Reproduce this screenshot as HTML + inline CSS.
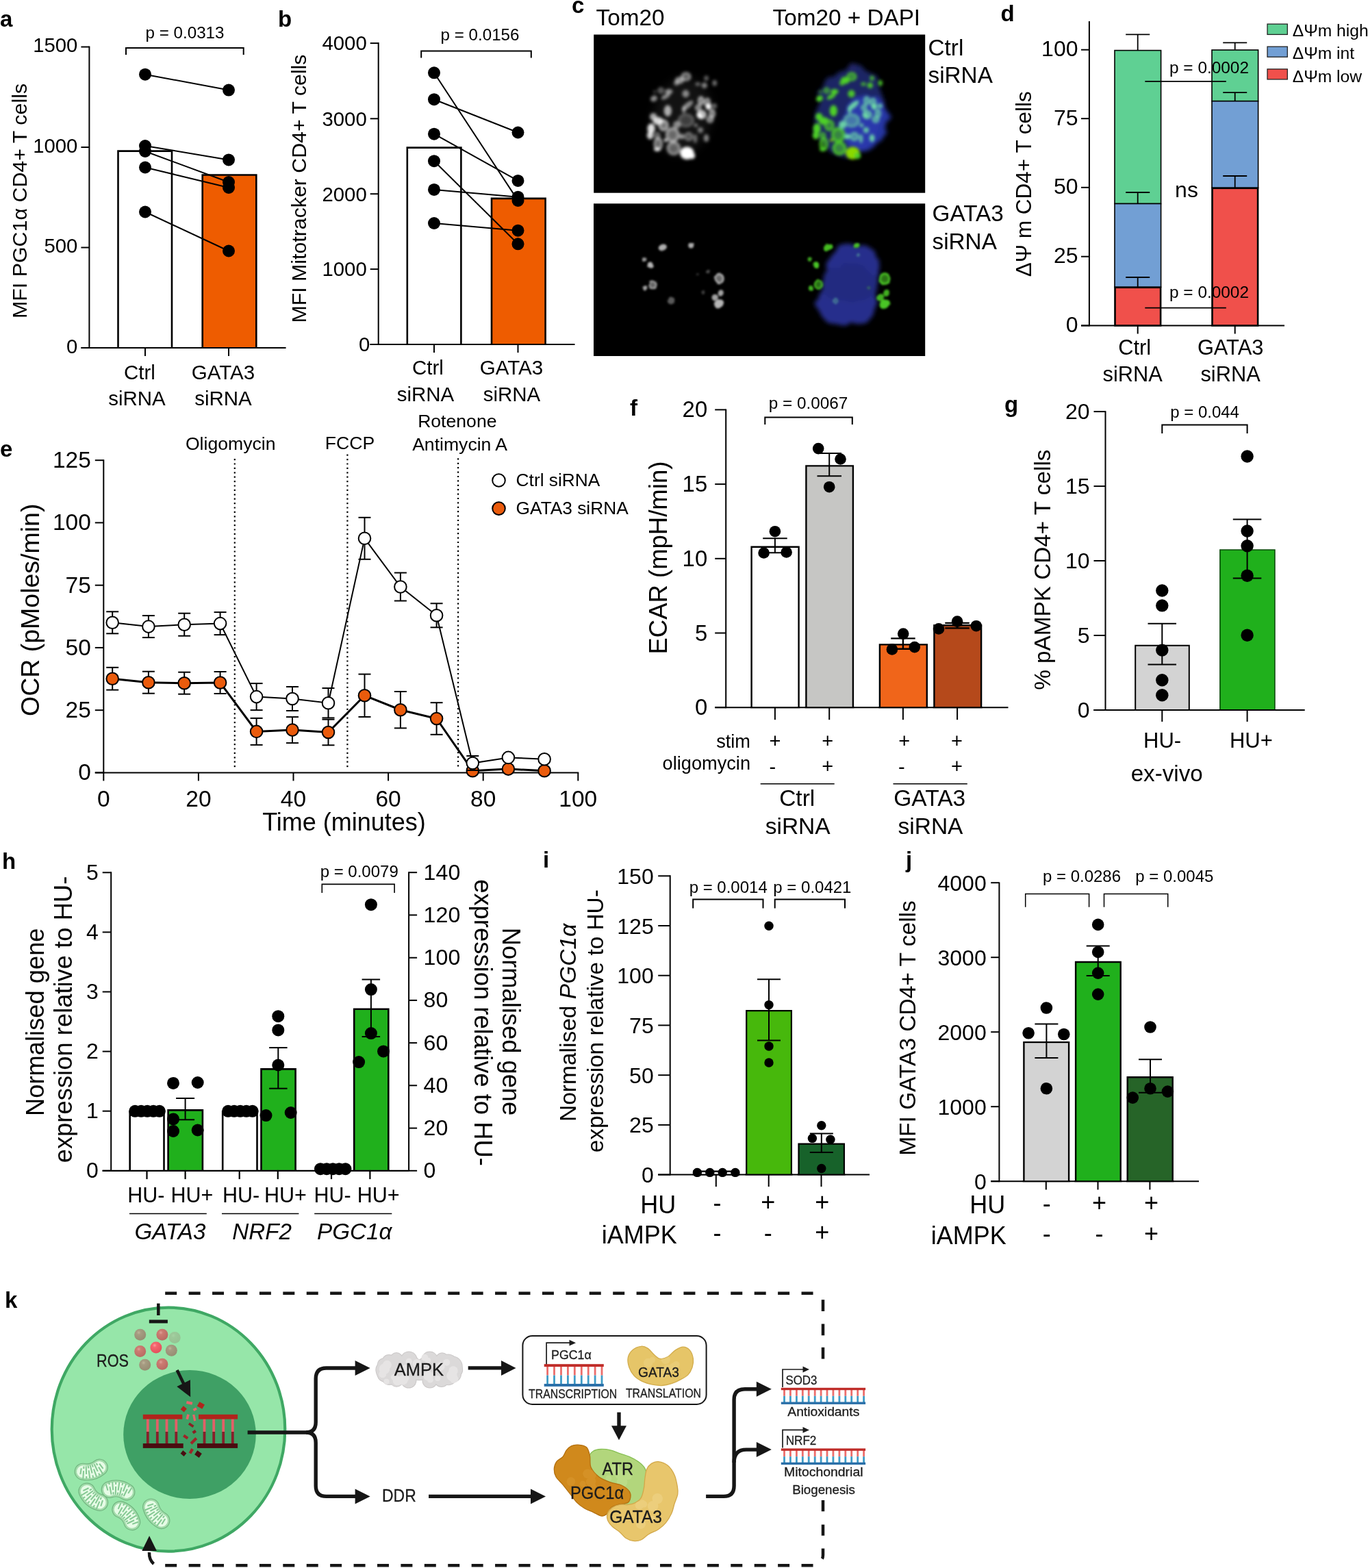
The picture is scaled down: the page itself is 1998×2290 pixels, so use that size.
<!DOCTYPE html>
<html lang="en"><head><meta charset="utf-8"><title>Figure</title>
<style>html,body{margin:0;padding:0;background:#fff}svg{display:block}text{font-family:"Liberation Sans",Arial,sans-serif}</style></head>
<body><svg width="1998" height="2290" viewBox="0 0 1998 2290">
<rect width="1998" height="2290" fill="#fff"/>
<text x="0.0" y="39.0" font-size="33" font-weight="bold">a</text>
<line x1="130.4" y1="67.5" x2="130.4" y2="509.0" stroke="#000" stroke-width="2" />
<line x1="118.4" y1="68.5" x2="130.4" y2="68.5" stroke="#000" stroke-width="2" />
<text x="113.4" y="76.3" font-size="29.3" text-anchor="end">1500</text>
<line x1="118.4" y1="215.0" x2="130.4" y2="215.0" stroke="#000" stroke-width="2" />
<text x="113.4" y="222.8" font-size="29.3" text-anchor="end">1000</text>
<line x1="118.4" y1="361.5" x2="130.4" y2="361.5" stroke="#000" stroke-width="2" />
<text x="113.4" y="369.3" font-size="29.3" text-anchor="end">500</text>
<line x1="118.4" y1="508.0" x2="130.4" y2="508.0" stroke="#000" stroke-width="2" />
<text x="113.4" y="515.8" font-size="29.3" text-anchor="end">0</text>
<line x1="118.5" y1="508.0" x2="417.6" y2="508.0" stroke="#000" stroke-width="2" />
<line x1="212.0" y1="508.0" x2="212.0" y2="520.0" stroke="#000" stroke-width="2" />
<line x1="334.0" y1="508.0" x2="334.0" y2="520.0" stroke="#000" stroke-width="2" />
<text x="39.0" y="293.5" font-size="30.4" text-anchor="middle" transform="rotate(-90 39.0 293.5)">MFI PGC1α CD4+ T cells</text>
<path d="M172.5 508.0V220.6H251.0V508.0" fill="#fff" stroke="#000" stroke-width="2.6"/>
<line x1="170.7" y1="508.0" x2="252.8" y2="508.0" stroke="#000" stroke-width="2" />
<path d="M295.7 508.0V255.5H374.3V508.0" fill="#ee5c00" stroke="#000" stroke-width="2.6"/>
<line x1="293.9" y1="508.0" x2="376.1" y2="508.0" stroke="#000" stroke-width="2" />
<line x1="212.0" y1="108.7" x2="334.0" y2="131.6" stroke="#000" stroke-width="2" />
<line x1="212.0" y1="213.0" x2="334.0" y2="233.4" stroke="#000" stroke-width="2" />
<line x1="212.0" y1="221.0" x2="334.0" y2="266.0" stroke="#000" stroke-width="2" />
<line x1="212.0" y1="244.5" x2="334.0" y2="274.0" stroke="#000" stroke-width="2" />
<line x1="212.0" y1="309.5" x2="334.0" y2="366.5" stroke="#000" stroke-width="2" />
<circle cx="212.0" cy="108.7" r="9" fill="#000" />
<circle cx="212.0" cy="213.0" r="9" fill="#000" />
<circle cx="212.0" cy="221.0" r="9" fill="#000" />
<circle cx="212.0" cy="244.5" r="9" fill="#000" />
<circle cx="212.0" cy="309.5" r="9" fill="#000" />
<circle cx="334.0" cy="131.6" r="9" fill="#000" />
<circle cx="334.0" cy="233.4" r="9" fill="#000" />
<circle cx="334.0" cy="266.0" r="9" fill="#000" />
<circle cx="334.0" cy="274.0" r="9" fill="#000" />
<circle cx="334.0" cy="366.5" r="9" fill="#000" />
<path d="M184.0 80.0V70.0H355.7V80.0" fill="none" stroke="#000" stroke-width="2" />
<text x="270.0" y="56.0" font-size="24.2" text-anchor="middle">p = 0.0313</text>
<text x="204.0" y="554.0" font-size="29.5" text-anchor="middle">Ctrl</text>
<text x="200.0" y="592.0" font-size="29.5" text-anchor="middle">siRNA</text>
<text x="326.0" y="554.0" font-size="29.5" text-anchor="middle">GATA3</text>
<text x="326.0" y="592.0" font-size="29.5" text-anchor="middle">siRNA</text>
<text x="406.0" y="39.0" font-size="33" font-weight="bold">b</text>
<line x1="552.7" y1="62.1" x2="552.7" y2="504.0" stroke="#000" stroke-width="2" />
<line x1="540.7" y1="63.1" x2="552.7" y2="63.1" stroke="#000" stroke-width="2" />
<text x="535.7" y="73.4" font-size="29.3" text-anchor="end">4000</text>
<line x1="540.7" y1="173.3" x2="552.7" y2="173.3" stroke="#000" stroke-width="2" />
<text x="535.7" y="183.6" font-size="29.3" text-anchor="end">3000</text>
<line x1="540.7" y1="283.2" x2="552.7" y2="283.2" stroke="#000" stroke-width="2" />
<text x="535.7" y="293.5" font-size="29.3" text-anchor="end">2000</text>
<line x1="540.7" y1="393.1" x2="552.7" y2="393.1" stroke="#000" stroke-width="2" />
<text x="535.7" y="403.4" font-size="29.3" text-anchor="end">1000</text>
<line x1="540.7" y1="503.0" x2="552.7" y2="503.0" stroke="#000" stroke-width="2" />
<text x="540.2" y="513.3" font-size="29.3" text-anchor="end">0</text>
<line x1="540.5" y1="503.0" x2="839.5" y2="503.0" stroke="#000" stroke-width="2" />
<line x1="634.0" y1="503.0" x2="634.0" y2="515.0" stroke="#000" stroke-width="2" />
<line x1="756.5" y1="503.0" x2="756.5" y2="515.0" stroke="#000" stroke-width="2" />
<text x="447.4" y="275.5" font-size="30.3" text-anchor="middle" transform="rotate(-90 447.4 275.5)">MFI Mitotracker CD4+ T cells</text>
<path d="M594.8 503.0V215.6H673.4V503.0" fill="#fff" stroke="#000" stroke-width="2.6"/>
<line x1="593.0" y1="503.0" x2="675.2" y2="503.0" stroke="#000" stroke-width="2" />
<path d="M718.0 503.0V289.9H796.6V503.0" fill="#ee5c00" stroke="#000" stroke-width="2.6"/>
<line x1="716.2" y1="503.0" x2="798.4" y2="503.0" stroke="#000" stroke-width="2" />
<line x1="634.0" y1="106.3" x2="756.5" y2="292.9" stroke="#000" stroke-width="2" />
<line x1="634.0" y1="145.2" x2="756.5" y2="193.5" stroke="#000" stroke-width="2" />
<line x1="634.0" y1="195.7" x2="756.5" y2="263.9" stroke="#000" stroke-width="2" />
<line x1="634.0" y1="235.2" x2="756.5" y2="356.3" stroke="#000" stroke-width="2" />
<line x1="634.0" y1="276.9" x2="756.5" y2="287.7" stroke="#000" stroke-width="2" />
<line x1="634.0" y1="326.0" x2="756.5" y2="336.7" stroke="#000" stroke-width="2" />
<circle cx="634.0" cy="106.3" r="9" fill="#000" />
<circle cx="634.0" cy="145.2" r="9" fill="#000" />
<circle cx="634.0" cy="195.7" r="9" fill="#000" />
<circle cx="634.0" cy="235.2" r="9" fill="#000" />
<circle cx="634.0" cy="276.9" r="9" fill="#000" />
<circle cx="634.0" cy="326.0" r="9" fill="#000" />
<circle cx="756.5" cy="292.9" r="9" fill="#000" />
<circle cx="756.5" cy="193.5" r="9" fill="#000" />
<circle cx="756.5" cy="263.9" r="9" fill="#000" />
<circle cx="756.5" cy="356.3" r="9" fill="#000" />
<circle cx="756.5" cy="287.7" r="9" fill="#000" />
<circle cx="756.5" cy="336.7" r="9" fill="#000" />
<path d="M615.2 84.6V74.6H775.8V84.6" fill="none" stroke="#000" stroke-width="2" />
<text x="701.0" y="59.0" font-size="24.2" text-anchor="middle">p = 0.0156</text>
<text x="625.0" y="547.0" font-size="29.5" text-anchor="middle">Ctrl</text>
<text x="621.5" y="585.5" font-size="29.5" text-anchor="middle">siRNA</text>
<text x="747.0" y="547.0" font-size="29.5" text-anchor="middle">GATA3</text>
<text x="747.5" y="585.5" font-size="29.5" text-anchor="middle">siRNA</text>
<text x="835.0" y="18.5" font-size="33" font-weight="bold">c</text>
<text x="870.5" y="36.5" font-size="33.3">Tom20</text>
<text x="1128.5" y="36.5" font-size="33.3">Tom20 + DAPI</text>
<text x="1355.5" y="81.2" font-size="33.3">Ctrl</text>
<text x="1355.5" y="121.2" font-size="33.3">siRNA</text>
<text x="1361.5" y="323.3" font-size="33.3">GATA3</text>
<text x="1361.5" y="363.6" font-size="33.3">siRNA</text>
<defs><filter id="b1" x="-20%" y="-20%" width="140%" height="140%">XX xChannelSelector="R" yChannelSelector="G"/><feGaussianBlur stdDeviation="1.9"/></filter><filter id="b2" x="-30%" y="-30%" width="160%" height="160%"><feTurbulence type="fractalNoise" baseFrequency="0.05" numOctaves="2" seed="9" result="n"/><feDisplacementMap in="SourceGraphic" in2="n" scale="14" xChannelSelector="R" yChannelSelector="G"/><feGaussianBlur stdDeviation="3.2"/></filter><filter id="b4" x="-30%" y="-30%" width="160%" height="160%"><feGaussianBlur stdDeviation="7"/></filter><filter id="b3" x="-20%" y="-20%" width="140%" height="140%"><feTurbulence type="fractalNoise" baseFrequency="0.12" numOctaves="2" seed="2" result="n"/><feDisplacementMap in="SourceGraphic" in2="n" scale="3" xChannelSelector="R" yChannelSelector="G"/><feGaussianBlur stdDeviation="1.5"/></filter>
<radialGradient id="wr"><stop offset="0" stop-color="#ffffff" stop-opacity="0.5"/><stop offset="0.55" stop-color="#ffffff" stop-opacity="0.6"/><stop offset="0.85" stop-color="#ffffff" stop-opacity="1"/><stop offset="1" stop-color="#ffffff" stop-opacity="0.9"/></radialGradient>
<radialGradient id="gr"><stop offset="0" stop-color="#4ed026" stop-opacity="0.5"/><stop offset="0.55" stop-color="#4ed026" stop-opacity="0.6"/><stop offset="0.85" stop-color="#4ed026" stop-opacity="1"/><stop offset="1" stop-color="#4ed026" stop-opacity="0.9"/></radialGradient>
<radialGradient id="yr"><stop offset="0" stop-color="#8ad800" stop-opacity="0.5"/><stop offset="0.55" stop-color="#8ad800" stop-opacity="0.6"/><stop offset="0.85" stop-color="#8ad800" stop-opacity="1"/><stop offset="1" stop-color="#8ad800" stop-opacity="0.9"/></radialGradient>
<radialGradient id="tr"><stop offset="0" stop-color="#6edca6" stop-opacity="0.5"/><stop offset="0.55" stop-color="#6edca6" stop-opacity="0.6"/><stop offset="0.85" stop-color="#6edca6" stop-opacity="1"/><stop offset="1" stop-color="#6edca6" stop-opacity="0.9"/></radialGradient>
<clipPath id="c1"><rect x="867.2" y="50.5" width="484" height="231.2"/></clipPath><clipPath id="c2"><rect x="867" y="297.3" width="484.2" height="222.7"/></clipPath></defs>
<rect x="867.2" y="50.5" width="484.0" height="231.2" fill="#000" stroke="none" stroke-width="0" />
<g clip-path="url(#c1)">
<g filter="url(#b4)"><ellipse cx="997" cy="170" rx="42" ry="56" fill="#fff" opacity="0.07" transform="rotate(12 997 170)"/></g>
<g filter="url(#b1)">
<ellipse cx="1001.9" cy="111.9" rx="7.5" ry="6.6" fill="url(#wr)" opacity="0.66"/>
<ellipse cx="992.5" cy="117.3" rx="6.6" ry="5.2" fill="#ffffff" opacity="0.55"/>
<ellipse cx="987.8" cy="121.2" rx="3.8" ry="3.8" fill="#ffffff" opacity="0.44"/>
<ellipse cx="1031.6" cy="114.2" rx="3.3" ry="3.8" fill="#ffffff" opacity="0.39"/>
<ellipse cx="1019.1" cy="122.8" rx="3.8" ry="2.8" fill="#ffffff" opacity="0.39"/>
<ellipse cx="1028.8" cy="124.8" rx="4.2" ry="4.2" fill="#ffffff" opacity="0.50"/>
<ellipse cx="1043.7" cy="121.2" rx="3.3" ry="4.2" fill="#ffffff" opacity="0.44"/>
<ellipse cx="965.2" cy="132.2" rx="4.7" ry="4.7" fill="url(#wr)" opacity="0.50"/>
<ellipse cx="976.9" cy="133.8" rx="5.6" ry="3.8" fill="#ffffff" opacity="0.55"/>
<ellipse cx="972.2" cy="140.8" rx="7.5" ry="3.3" fill="#ffffff" opacity="0.50" transform="rotate(-30 972.2 140.8)"/>
<ellipse cx="955.0" cy="143.9" rx="5.2" ry="4.2" fill="#ffffff" opacity="0.55" transform="rotate(-30 955.0 143.9)"/>
<ellipse cx="956.2" cy="134.1" rx="2.3" ry="2.3" fill="#ffffff" opacity="0.28"/>
<ellipse cx="1001.5" cy="136.9" rx="5.2" ry="5.6" fill="#ffffff" opacity="0.50"/>
<ellipse cx="1004.2" cy="154.1" rx="10.3" ry="3.9" fill="#ffffff" opacity="0.50" transform="rotate(-40 1004.2 154.1)"/>
<ellipse cx="998.8" cy="160.3" rx="2.8" ry="5.6" fill="#ffffff" opacity="0.44"/>
<ellipse cx="1023.8" cy="147.0" rx="4.7" ry="6.6" fill="url(#wr)" opacity="0.83"/>
<ellipse cx="1033.1" cy="149.4" rx="4.7" ry="6.6" fill="url(#wr)" opacity="0.77"/>
<ellipse cx="1019.8" cy="157.2" rx="4.7" ry="4.7" fill="url(#wr)" opacity="0.77"/>
<ellipse cx="1034.7" cy="155.6" rx="4.2" ry="4.7" fill="#ffffff" opacity="1.00"/>
<ellipse cx="1024.5" cy="167.3" rx="7.0" ry="6.6" fill="url(#wr)" opacity="1.00"/>
<ellipse cx="1022.2" cy="168.9" rx="3.8" ry="3.8" fill="#ffffff" opacity="1.00"/>
<ellipse cx="1040.2" cy="165.8" rx="4.7" ry="6.6" fill="url(#wr)" opacity="0.83"/>
<ellipse cx="1037.0" cy="174.4" rx="5.2" ry="5.2" fill="url(#wr)" opacity="0.77"/>
<ellipse cx="1043.3" cy="154.8" rx="3.8" ry="3.8" fill="#ffffff" opacity="0.39"/>
<ellipse cx="975.3" cy="161.9" rx="5.6" ry="8.4" fill="#ffffff" opacity="0.66"/>
<ellipse cx="954.2" cy="170.5" rx="5.2" ry="5.6" fill="#ffffff" opacity="0.66"/>
<ellipse cx="961.2" cy="176.7" rx="7.5" ry="5.6" fill="#ffffff" opacity="0.83"/>
<ellipse cx="969.1" cy="183.0" rx="7.5" ry="8.4" fill="url(#wr)" opacity="0.77"/>
<ellipse cx="951.1" cy="187.7" rx="5.6" ry="7.5" fill="#ffffff" opacity="0.88"/>
<ellipse cx="949.5" cy="197.8" rx="4.7" ry="5.6" fill="#ffffff" opacity="0.83"/>
<ellipse cx="959.7" cy="197.8" rx="4.7" ry="4.7" fill="url(#wr)" opacity="0.55"/>
<ellipse cx="961.2" cy="210.3" rx="6.6" ry="10.3" fill="url(#wr)" opacity="0.72"/>
<ellipse cx="959.7" cy="218.1" rx="4.7" ry="2.8" fill="#ffffff" opacity="0.83"/>
<ellipse cx="972.2" cy="204.8" rx="2.3" ry="2.3" fill="#ffffff" opacity="1.00"/>
<ellipse cx="982.3" cy="197.0" rx="10.3" ry="11.2" fill="url(#wr)" opacity="0.66"/>
<ellipse cx="983.9" cy="216.6" rx="10.3" ry="10.3" fill="url(#wr)" opacity="0.61"/>
<ellipse cx="1001.9" cy="175.9" rx="12.2" ry="10.3" fill="url(#wr)" opacity="0.33"/>
<ellipse cx="988.6" cy="182.2" rx="5.6" ry="5.6" fill="#ffffff" opacity="0.50"/>
<ellipse cx="995.6" cy="199.4" rx="3.8" ry="3.8" fill="#ffffff" opacity="0.55"/>
<ellipse cx="1005.8" cy="199.4" rx="6.6" ry="6.6" fill="url(#wr)" opacity="0.50"/>
<ellipse cx="1003.4" cy="223.6" rx="10.3" ry="9.4" fill="#ffffff" opacity="1.00"/>
<ellipse cx="1000.3" cy="221.2" rx="5.6" ry="5.6" fill="#ffffff" opacity="1.00"/>
<ellipse cx="1010.5" cy="227.5" rx="4.7" ry="4.7" fill="#ffffff" opacity="0.99"/>
<ellipse cx="1016.3" cy="183.0" rx="2.8" ry="2.8" fill="#ffffff" opacity="0.44"/>
<ellipse cx="1023.0" cy="190.0" rx="4.2" ry="4.2" fill="#ffffff" opacity="0.44"/>
<ellipse cx="1031.6" cy="201.7" rx="3.8" ry="5.6" fill="#ffffff" opacity="0.50"/>
<ellipse cx="1015.5" cy="202.5" rx="2.8" ry="6.6" fill="#ffffff" opacity="0.39"/>
</g>
<g filter="url(#b2)"><ellipse cx="1242" cy="162" rx="50" ry="66" fill="#20266a" opacity="0.95" transform="rotate(14 1242 162)"/><ellipse cx="1264" cy="180" rx="33" ry="42" fill="#2a3cb4" opacity="0.9" transform="rotate(18 1264 180)"/><ellipse cx="1246" cy="101" rx="6" ry="7" fill="#24286c" opacity="0.7"/></g>
<g filter="url(#b1)">
<ellipse cx="1243.9" cy="111.9" rx="7.5" ry="6.6" fill="url(#gr)" opacity="1.00"/>
<ellipse cx="1234.5" cy="117.3" rx="6.6" ry="5.2" fill="#4ed026" opacity="1.00"/>
<ellipse cx="1229.8" cy="121.2" rx="3.8" ry="3.8" fill="#4ed026" opacity="0.85"/>
<ellipse cx="1273.6" cy="114.2" rx="3.3" ry="3.8" fill="#4ed026" opacity="0.77"/>
<ellipse cx="1261.1" cy="122.8" rx="3.8" ry="2.8" fill="#4ed026" opacity="0.77"/>
<ellipse cx="1270.8" cy="124.8" rx="4.2" ry="4.2" fill="#4ed026" opacity="0.93"/>
<ellipse cx="1285.7" cy="121.2" rx="3.3" ry="4.2" fill="#4ed026" opacity="0.85"/>
<ellipse cx="1207.2" cy="132.2" rx="4.7" ry="4.7" fill="url(#gr)" opacity="0.93"/>
<ellipse cx="1218.9" cy="133.8" rx="5.6" ry="3.8" fill="#4ed026" opacity="1.00"/>
<ellipse cx="1214.2" cy="140.8" rx="7.5" ry="3.3" fill="#4ed026" opacity="0.93" transform="rotate(-30 1214.2 140.8)"/>
<ellipse cx="1197.0" cy="143.9" rx="5.2" ry="4.2" fill="#4ed026" opacity="1.00" transform="rotate(-30 1197.0 143.9)"/>
<ellipse cx="1198.2" cy="134.1" rx="2.3" ry="2.3" fill="#4ed026" opacity="0.62"/>
<ellipse cx="1243.5" cy="136.9" rx="5.2" ry="5.6" fill="#4ed026" opacity="0.93"/>
<ellipse cx="1246.2" cy="154.1" rx="10.3" ry="3.9" fill="#6edca6" opacity="0.93" transform="rotate(-40 1246.2 154.1)"/>
<ellipse cx="1240.8" cy="160.3" rx="2.8" ry="5.6" fill="#6edca6" opacity="0.85"/>
<ellipse cx="1265.8" cy="147.0" rx="4.7" ry="6.6" fill="url(#tr)" opacity="1.00"/>
<ellipse cx="1275.1" cy="149.4" rx="4.7" ry="6.6" fill="url(#tr)" opacity="1.00"/>
<ellipse cx="1261.8" cy="157.2" rx="4.7" ry="4.7" fill="url(#tr)" opacity="1.00"/>
<ellipse cx="1276.7" cy="155.6" rx="4.2" ry="4.7" fill="#6edca6" opacity="1.00"/>
<ellipse cx="1266.5" cy="167.3" rx="7.0" ry="6.6" fill="url(#tr)" opacity="1.00"/>
<ellipse cx="1264.2" cy="168.9" rx="3.8" ry="3.8" fill="#6edca6" opacity="1.00"/>
<ellipse cx="1282.2" cy="165.8" rx="4.7" ry="6.6" fill="url(#tr)" opacity="1.00"/>
<ellipse cx="1279.0" cy="174.4" rx="5.2" ry="5.2" fill="url(#tr)" opacity="1.00"/>
<ellipse cx="1285.3" cy="154.8" rx="3.8" ry="3.8" fill="#6edca6" opacity="0.77"/>
<ellipse cx="1217.3" cy="161.9" rx="5.6" ry="8.4" fill="#4ed026" opacity="1.00"/>
<ellipse cx="1196.2" cy="170.5" rx="5.2" ry="5.6" fill="#4ed026" opacity="1.00"/>
<ellipse cx="1203.2" cy="176.7" rx="7.5" ry="5.6" fill="#4ed026" opacity="1.00"/>
<ellipse cx="1211.1" cy="183.0" rx="7.5" ry="8.4" fill="url(#gr)" opacity="1.00"/>
<ellipse cx="1193.1" cy="187.7" rx="5.6" ry="7.5" fill="#4ed026" opacity="1.00"/>
<ellipse cx="1191.5" cy="197.8" rx="4.7" ry="5.6" fill="#4ed026" opacity="1.00"/>
<ellipse cx="1201.7" cy="197.8" rx="4.7" ry="4.7" fill="url(#gr)" opacity="1.00"/>
<ellipse cx="1203.2" cy="210.3" rx="6.6" ry="10.3" fill="url(#gr)" opacity="1.00"/>
<ellipse cx="1201.7" cy="218.1" rx="4.7" ry="2.8" fill="#4ed026" opacity="1.00"/>
<ellipse cx="1214.2" cy="204.8" rx="2.3" ry="2.3" fill="#8ad800" opacity="1.00"/>
<ellipse cx="1224.3" cy="197.0" rx="10.3" ry="11.2" fill="url(#gr)" opacity="1.00"/>
<ellipse cx="1225.9" cy="216.6" rx="10.3" ry="10.3" fill="url(#gr)" opacity="1.00"/>
<ellipse cx="1243.9" cy="175.9" rx="12.2" ry="10.3" fill="url(#tr)" opacity="0.70"/>
<ellipse cx="1230.6" cy="182.2" rx="5.6" ry="5.6" fill="#6edca6" opacity="0.93"/>
<ellipse cx="1237.6" cy="199.4" rx="3.8" ry="3.8" fill="#6edca6" opacity="1.00"/>
<ellipse cx="1247.8" cy="199.4" rx="6.6" ry="6.6" fill="url(#tr)" opacity="0.93"/>
<ellipse cx="1245.4" cy="223.6" rx="10.3" ry="9.4" fill="#8ad800" opacity="1.00"/>
<ellipse cx="1242.3" cy="221.2" rx="5.6" ry="5.6" fill="#8ad800" opacity="1.00"/>
<ellipse cx="1252.5" cy="227.5" rx="4.7" ry="4.7" fill="#4ed026" opacity="1.00"/>
<ellipse cx="1258.3" cy="183.0" rx="2.8" ry="2.8" fill="#6edca6" opacity="0.85"/>
<ellipse cx="1265.0" cy="190.0" rx="4.2" ry="4.2" fill="#6edca6" opacity="0.85"/>
<ellipse cx="1273.6" cy="201.7" rx="3.8" ry="5.6" fill="#6edca6" opacity="0.93"/>
<ellipse cx="1257.5" cy="202.5" rx="2.8" ry="6.6" fill="#6edca6" opacity="0.77"/>
</g></g>
<rect x="867.0" y="297.3" width="484.2" height="222.7" fill="#000" stroke="none" stroke-width="0" />
<g clip-path="url(#c2)">
<g filter="url(#b3)">
<ellipse cx="967.8" cy="361.3" rx="6.3" ry="4.6" fill="#ffffff" opacity="0.68" transform="rotate(-20 967.8 361.3)"/>
<ellipse cx="1009.2" cy="358.4" rx="4.0" ry="4.0" fill="#ffffff" opacity="0.68"/>
<ellipse cx="940.7" cy="378.7" rx="2.8" ry="2.8" fill="#ffffff" opacity="0.60"/>
<ellipse cx="949.8" cy="387.0" rx="4.0" ry="4.4" fill="#ffffff" opacity="0.71"/>
<ellipse cx="953.5" cy="415.8" rx="6.1" ry="6.5" fill="url(#wr)" opacity="0.71"/>
<ellipse cx="942.2" cy="420.8" rx="3.0" ry="3.6" fill="#ffffff" opacity="0.64"/>
<ellipse cx="1050.2" cy="407.0" rx="7.5" ry="8.3" fill="url(#wr)" opacity="0.75"/>
<ellipse cx="1052.7" cy="427.9" rx="4.0" ry="4.8" fill="#ffffff" opacity="0.64" transform="rotate(20 1052.7 427.9)"/>
<ellipse cx="1044.3" cy="434.6" rx="4.8" ry="4.8" fill="#ffffff" opacity="0.64"/>
<ellipse cx="1050.2" cy="443.8" rx="7.6" ry="5.9" fill="#ffffff" opacity="0.71" transform="rotate(-40 1050.2 443.8)"/>
<ellipse cx="1033.5" cy="396.5" rx="2.6" ry="2.6" fill="#ffffff" opacity="0.30"/>
<ellipse cx="1027.5" cy="426.5" rx="2.6" ry="2.6" fill="#ffffff" opacity="0.25"/>
<ellipse cx="1019.0" cy="400.5" rx="1.8" ry="1.8" fill="#ffffff" opacity="0.20"/>
<ellipse cx="980.0" cy="439.0" rx="5.4" ry="5.4" fill="#ffffff" opacity="0.35"/>
</g>
<g filter="url(#b2)"><ellipse cx="1248" cy="387" rx="38" ry="31" fill="#262f8c" transform="rotate(15 1248 387)"/><ellipse cx="1237" cy="441" rx="44" ry="34" fill="#262f8c" transform="rotate(-8 1237 441)"/><ellipse cx="1241" cy="413" rx="41" ry="28" fill="#232b80"/></g>
<g filter="url(#b3)">
<ellipse cx="1209.8" cy="361.3" rx="6.9" ry="5.1" fill="#4ed026" opacity="0.90" transform="rotate(-20 1209.8 361.3)"/>
<ellipse cx="1251.2" cy="358.4" rx="4.4" ry="4.4" fill="#4ed026" opacity="0.90"/>
<ellipse cx="1182.7" cy="378.7" rx="3.1" ry="3.1" fill="#4ed026" opacity="0.80"/>
<ellipse cx="1191.8" cy="387.0" rx="4.4" ry="4.8" fill="#4ed026" opacity="0.95"/>
<ellipse cx="1195.5" cy="415.8" rx="6.7" ry="7.1" fill="url(#gr)" opacity="0.95"/>
<ellipse cx="1184.2" cy="420.8" rx="3.3" ry="3.9" fill="#4ed026" opacity="0.85"/>
<ellipse cx="1292.2" cy="407.0" rx="8.2" ry="9.1" fill="url(#gr)" opacity="1.00"/>
<ellipse cx="1294.7" cy="427.9" rx="4.4" ry="5.3" fill="#4ed026" opacity="0.85" transform="rotate(20 1294.7 427.9)"/>
<ellipse cx="1286.3" cy="434.6" rx="5.3" ry="5.3" fill="#4ed026" opacity="0.85"/>
<ellipse cx="1292.2" cy="443.8" rx="8.3" ry="6.4" fill="#4ed026" opacity="0.95" transform="rotate(-40 1292.2 443.8)"/>
<ellipse cx="1220.2" cy="439.6" rx="4.2" ry="4.6" fill="url(#tr)" opacity="0.50"/>
<ellipse cx="1253.3" cy="372.2" rx="2.5" ry="2.5" fill="#6edca6" opacity="0.40"/>
<ellipse cx="1269.0" cy="420.5" rx="2.4" ry="2.4" fill="#4ed026" opacity="0.30"/>
</g></g>
<text x="1461.5" y="31.0" font-size="33" font-weight="bold">d</text>
<line x1="1590.9" y1="31.0" x2="1590.9" y2="476.5" stroke="#000" stroke-width="2" />
<line x1="1579.0" y1="72.7" x2="1590.9" y2="72.7" stroke="#000" stroke-width="2" />
<text x="1574.5" y="82.2" font-size="32" text-anchor="end">100</text>
<line x1="1579.0" y1="173.2" x2="1590.9" y2="173.2" stroke="#000" stroke-width="2" />
<text x="1574.5" y="182.7" font-size="32" text-anchor="end">75</text>
<line x1="1579.0" y1="273.8" x2="1590.9" y2="273.8" stroke="#000" stroke-width="2" />
<text x="1574.5" y="283.3" font-size="32" text-anchor="end">50</text>
<line x1="1579.0" y1="374.7" x2="1590.9" y2="374.7" stroke="#000" stroke-width="2" />
<text x="1574.5" y="384.2" font-size="32" text-anchor="end">25</text>
<line x1="1579.0" y1="475.5" x2="1590.9" y2="475.5" stroke="#000" stroke-width="2" />
<text x="1574.5" y="485.0" font-size="32" text-anchor="end">0</text>
<line x1="1579.0" y1="475.5" x2="1876.0" y2="475.5" stroke="#000" stroke-width="2" />
<line x1="1661.7" y1="475.5" x2="1661.7" y2="487.5" stroke="#000" stroke-width="2" />
<line x1="1803.7" y1="475.5" x2="1803.7" y2="487.5" stroke="#000" stroke-width="2" />
<text x="1506.5" y="268.7" font-size="31.5" text-anchor="middle" transform="rotate(-90 1506.5 268.7)">ΔΨ m CD4+ T cells</text>
<rect x="1628.0" y="73.6" width="67.6" height="223.9" fill="#5fd093" stroke="#000" stroke-width="1.6" />
<rect x="1628.0" y="297.5" width="67.6" height="121.9" fill="#729fd4" stroke="#000" stroke-width="1.6" />
<rect x="1628.5" y="419.8" width="66.6" height="55.7" fill="#f0504b" stroke="#000" stroke-width="2.6" />
<rect x="1770.0" y="73.0" width="67.6" height="74.7" fill="#5fd093" stroke="#000" stroke-width="1.6" />
<rect x="1770.0" y="147.7" width="67.6" height="126.7" fill="#729fd4" stroke="#000" stroke-width="1.6" />
<rect x="1770.5" y="274.8" width="66.6" height="200.7" fill="#f0504b" stroke="#000" stroke-width="2.6" />
<line x1="1661.7" y1="50.4" x2="1661.7" y2="73.0" stroke="#000" stroke-width="1.8" />
<line x1="1644.2" y1="50.4" x2="1679.2" y2="50.4" stroke="#000" stroke-width="1.8" />
<line x1="1661.7" y1="281.0" x2="1661.7" y2="297.5" stroke="#000" stroke-width="1.8" />
<line x1="1644.2" y1="281.0" x2="1679.2" y2="281.0" stroke="#000" stroke-width="1.8" />
<line x1="1661.7" y1="405.0" x2="1661.7" y2="419.4" stroke="#000" stroke-width="1.8" />
<line x1="1644.2" y1="405.0" x2="1679.2" y2="405.0" stroke="#000" stroke-width="1.8" />
<line x1="1803.7" y1="62.4" x2="1803.7" y2="72.4" stroke="#000" stroke-width="1.8" />
<line x1="1786.2" y1="62.4" x2="1821.2" y2="62.4" stroke="#000" stroke-width="1.8" />
<line x1="1803.7" y1="135.1" x2="1803.7" y2="147.7" stroke="#000" stroke-width="1.8" />
<line x1="1786.2" y1="135.1" x2="1821.2" y2="135.1" stroke="#000" stroke-width="1.8" />
<line x1="1803.7" y1="257.0" x2="1803.7" y2="274.4" stroke="#000" stroke-width="1.8" />
<line x1="1786.2" y1="257.0" x2="1821.2" y2="257.0" stroke="#000" stroke-width="1.8" />
<text x="1766.0" y="106.6" font-size="24.4" text-anchor="middle">p = 0.0002</text>
<line x1="1672.3" y1="118.9" x2="1790.8" y2="118.9" stroke="#000" stroke-width="1.8" />
<text x="1733.0" y="288.2" font-size="32" text-anchor="middle">ns</text>
<text x="1766.0" y="435.3" font-size="24.4" text-anchor="middle">p = 0.0002</text>
<line x1="1672.3" y1="449.7" x2="1790.8" y2="449.7" stroke="#000" stroke-width="1.8" />
<rect x="1851.0" y="35.1" width="29.3" height="15.3" fill="#5fd093" stroke="#222" stroke-width="1.3" />
<text x="1887.8" y="52.5" font-size="24.6">ΔΨm high</text>
<rect x="1851.0" y="68.1" width="29.3" height="15.1" fill="#729fd4" stroke="#222" stroke-width="1.3" />
<text x="1887.8" y="86.2" font-size="24.6">ΔΨm int</text>
<rect x="1851.0" y="100.9" width="29.3" height="15.0" fill="#f0504b" stroke="#222" stroke-width="1.3" />
<text x="1887.8" y="120.0" font-size="24.6">ΔΨm low</text>
<text x="1657.2" y="518.0" font-size="30.8" text-anchor="middle">Ctrl</text>
<text x="1654.2" y="557.0" font-size="30.8" text-anchor="middle">siRNA</text>
<text x="1797.1" y="518.0" font-size="30.8" text-anchor="middle">GATA3</text>
<text x="1797.1" y="557.0" font-size="30.8" text-anchor="middle">siRNA</text>
<text x="0.0" y="667.4" font-size="33" font-weight="bold">e</text>
<line x1="151.3" y1="671.2" x2="151.3" y2="1129.4" stroke="#000" stroke-width="2" />
<line x1="138.8" y1="672.2" x2="151.3" y2="672.2" stroke="#000" stroke-width="2" />
<text x="132.8" y="683.2" font-size="33.5" text-anchor="end">125</text>
<line x1="138.8" y1="763.4" x2="151.3" y2="763.4" stroke="#000" stroke-width="2" />
<text x="132.8" y="774.4" font-size="33.5" text-anchor="end">100</text>
<line x1="138.8" y1="854.7" x2="151.3" y2="854.7" stroke="#000" stroke-width="2" />
<text x="132.8" y="865.7" font-size="33.5" text-anchor="end">75</text>
<line x1="138.8" y1="945.9" x2="151.3" y2="945.9" stroke="#000" stroke-width="2" />
<text x="132.8" y="956.9" font-size="33.5" text-anchor="end">50</text>
<line x1="138.8" y1="1037.2" x2="151.3" y2="1037.2" stroke="#000" stroke-width="2" />
<text x="132.8" y="1048.2" font-size="33.5" text-anchor="end">25</text>
<line x1="138.8" y1="1128.4" x2="151.3" y2="1128.4" stroke="#000" stroke-width="2" />
<text x="132.8" y="1139.4" font-size="33.5" text-anchor="end">0</text>
<line x1="138.8" y1="1128.4" x2="845.2" y2="1128.4" stroke="#000" stroke-width="2" />
<line x1="151.3" y1="1128.4" x2="151.3" y2="1140.4" stroke="#000" stroke-width="2" />
<line x1="289.9" y1="1128.4" x2="289.9" y2="1140.4" stroke="#000" stroke-width="2" />
<line x1="428.5" y1="1128.4" x2="428.5" y2="1140.4" stroke="#000" stroke-width="2" />
<line x1="567.1" y1="1128.4" x2="567.1" y2="1140.4" stroke="#000" stroke-width="2" />
<line x1="705.7" y1="1128.4" x2="705.7" y2="1140.4" stroke="#000" stroke-width="2" />
<line x1="844.3" y1="1128.4" x2="844.3" y2="1140.4" stroke="#000" stroke-width="2" />
<text x="151.3" y="1177.7" font-size="33.5" text-anchor="middle">0</text>
<text x="289.9" y="1177.7" font-size="33.5" text-anchor="middle">20</text>
<text x="428.5" y="1177.7" font-size="33.5" text-anchor="middle">40</text>
<text x="567.1" y="1177.7" font-size="33.5" text-anchor="middle">60</text>
<text x="705.7" y="1177.7" font-size="33.5" text-anchor="middle">80</text>
<text x="844.3" y="1177.7" font-size="33.5" text-anchor="middle">100</text>
<text x="57.2" y="890.8" font-size="37.5" text-anchor="middle" transform="rotate(-90 57.2 890.8)">OCR (pMoles/min)</text>
<text x="502.5" y="1212.5" font-size="36" text-anchor="middle">Time (minutes)</text>
<text x="336.7" y="656.5" font-size="26.6" text-anchor="middle">Oligomycin</text>
<text x="511.0" y="655.8" font-size="26.6" text-anchor="middle">FCCP</text>
<text x="667.8" y="624.0" font-size="26.6" text-anchor="middle">Rotenone</text>
<text x="671.6" y="657.8" font-size="26.6" text-anchor="middle">Antimycin A</text>
<line x1="342.8" y1="670.0" x2="342.8" y2="1123.0" stroke="#000" stroke-width="2.2" stroke-dasharray="2.2 4.2"/>
<line x1="507.4" y1="663.6" x2="507.4" y2="1123.0" stroke="#000" stroke-width="2.2" stroke-dasharray="2.2 4.2"/>
<line x1="669.1" y1="669.3" x2="669.1" y2="1123.0" stroke="#000" stroke-width="2.2" stroke-dasharray="2.2 4.2"/>
<line x1="164.2" y1="974.8" x2="164.2" y2="1007.6" stroke="#000" stroke-width="2" />
<line x1="155.2" y1="974.8" x2="173.2" y2="974.8" stroke="#000" stroke-width="2" />
<line x1="155.2" y1="1007.6" x2="173.2" y2="1007.6" stroke="#000" stroke-width="2" />
<line x1="216.9" y1="980.7" x2="216.9" y2="1012.7" stroke="#000" stroke-width="2" />
<line x1="207.9" y1="980.7" x2="225.9" y2="980.7" stroke="#000" stroke-width="2" />
<line x1="207.9" y1="1012.7" x2="225.9" y2="1012.7" stroke="#000" stroke-width="2" />
<line x1="269.2" y1="981.7" x2="269.2" y2="1013.7" stroke="#000" stroke-width="2" />
<line x1="260.2" y1="981.7" x2="278.2" y2="981.7" stroke="#000" stroke-width="2" />
<line x1="260.2" y1="1013.7" x2="278.2" y2="1013.7" stroke="#000" stroke-width="2" />
<line x1="321.6" y1="981.0" x2="321.6" y2="1013.0" stroke="#000" stroke-width="2" />
<line x1="312.6" y1="981.0" x2="330.6" y2="981.0" stroke="#000" stroke-width="2" />
<line x1="312.6" y1="1013.0" x2="330.6" y2="1013.0" stroke="#000" stroke-width="2" />
<line x1="374.6" y1="1048.9" x2="374.6" y2="1087.9" stroke="#000" stroke-width="2" />
<line x1="365.6" y1="1048.9" x2="383.6" y2="1048.9" stroke="#000" stroke-width="2" />
<line x1="365.6" y1="1087.9" x2="383.6" y2="1087.9" stroke="#000" stroke-width="2" />
<line x1="427.0" y1="1047.1" x2="427.0" y2="1085.1" stroke="#000" stroke-width="2" />
<line x1="418.0" y1="1047.1" x2="436.0" y2="1047.1" stroke="#000" stroke-width="2" />
<line x1="418.0" y1="1085.1" x2="436.0" y2="1085.1" stroke="#000" stroke-width="2" />
<line x1="479.5" y1="1050.7" x2="479.5" y2="1088.3" stroke="#000" stroke-width="2" />
<line x1="470.5" y1="1050.7" x2="488.5" y2="1050.7" stroke="#000" stroke-width="2" />
<line x1="470.5" y1="1088.3" x2="488.5" y2="1088.3" stroke="#000" stroke-width="2" />
<line x1="532.5" y1="984.6" x2="532.5" y2="1047.0" stroke="#000" stroke-width="2" />
<line x1="523.5" y1="984.6" x2="541.5" y2="984.6" stroke="#000" stroke-width="2" />
<line x1="523.5" y1="1047.0" x2="541.5" y2="1047.0" stroke="#000" stroke-width="2" />
<line x1="584.9" y1="1010.0" x2="584.9" y2="1063.4" stroke="#000" stroke-width="2" />
<line x1="575.9" y1="1010.0" x2="593.9" y2="1010.0" stroke="#000" stroke-width="2" />
<line x1="575.9" y1="1063.4" x2="593.9" y2="1063.4" stroke="#000" stroke-width="2" />
<line x1="637.6" y1="1026.2" x2="637.6" y2="1072.8" stroke="#000" stroke-width="2" />
<line x1="628.6" y1="1026.2" x2="646.6" y2="1026.2" stroke="#000" stroke-width="2" />
<line x1="628.6" y1="1072.8" x2="646.6" y2="1072.8" stroke="#000" stroke-width="2" />
<polyline fill="none" stroke="#000" stroke-width="3" points="164.2,991.2 216.9,996.7 269.2,997.7 321.6,997.0 374.6,1068.4 427.0,1066.1 479.5,1069.5 532.5,1015.8 584.9,1036.7 637.6,1049.5 690.3,1125.7 742.4,1123.1 795.1,1125.7"/>
<circle cx="164.2" cy="991.2" r="8.8" fill="#ea5b0c" stroke="#000" stroke-width="2" />
<circle cx="216.9" cy="996.7" r="8.8" fill="#ea5b0c" stroke="#000" stroke-width="2" />
<circle cx="269.2" cy="997.7" r="8.8" fill="#ea5b0c" stroke="#000" stroke-width="2" />
<circle cx="321.6" cy="997.0" r="8.8" fill="#ea5b0c" stroke="#000" stroke-width="2" />
<circle cx="374.6" cy="1068.4" r="8.8" fill="#ea5b0c" stroke="#000" stroke-width="2" />
<circle cx="427.0" cy="1066.1" r="8.8" fill="#ea5b0c" stroke="#000" stroke-width="2" />
<circle cx="479.5" cy="1069.5" r="8.8" fill="#ea5b0c" stroke="#000" stroke-width="2" />
<circle cx="532.5" cy="1015.8" r="8.8" fill="#ea5b0c" stroke="#000" stroke-width="2" />
<circle cx="584.9" cy="1036.7" r="8.8" fill="#ea5b0c" stroke="#000" stroke-width="2" />
<circle cx="637.6" cy="1049.5" r="8.8" fill="#ea5b0c" stroke="#000" stroke-width="2" />
<circle cx="690.3" cy="1125.7" r="8.8" fill="#ea5b0c" stroke="#000" stroke-width="2" />
<circle cx="742.4" cy="1123.1" r="8.8" fill="#ea5b0c" stroke="#000" stroke-width="2" />
<circle cx="795.1" cy="1125.7" r="8.8" fill="#ea5b0c" stroke="#000" stroke-width="2" />
<line x1="164.2" y1="893.3" x2="164.2" y2="925.3" stroke="#000" stroke-width="2" />
<line x1="155.2" y1="893.3" x2="173.2" y2="893.3" stroke="#000" stroke-width="2" />
<line x1="155.2" y1="925.3" x2="173.2" y2="925.3" stroke="#000" stroke-width="2" />
<line x1="216.9" y1="899.1" x2="216.9" y2="931.1" stroke="#000" stroke-width="2" />
<line x1="207.9" y1="899.1" x2="225.9" y2="899.1" stroke="#000" stroke-width="2" />
<line x1="207.9" y1="931.1" x2="225.9" y2="931.1" stroke="#000" stroke-width="2" />
<line x1="269.2" y1="895.7" x2="269.2" y2="928.7" stroke="#000" stroke-width="2" />
<line x1="260.2" y1="895.7" x2="278.2" y2="895.7" stroke="#000" stroke-width="2" />
<line x1="260.2" y1="928.7" x2="278.2" y2="928.7" stroke="#000" stroke-width="2" />
<line x1="321.6" y1="894.1" x2="321.6" y2="927.1" stroke="#000" stroke-width="2" />
<line x1="312.6" y1="894.1" x2="330.6" y2="894.1" stroke="#000" stroke-width="2" />
<line x1="312.6" y1="927.1" x2="330.6" y2="927.1" stroke="#000" stroke-width="2" />
<line x1="374.6" y1="998.1" x2="374.6" y2="1037.1" stroke="#000" stroke-width="2" />
<line x1="365.6" y1="998.1" x2="383.6" y2="998.1" stroke="#000" stroke-width="2" />
<line x1="365.6" y1="1037.1" x2="383.6" y2="1037.1" stroke="#000" stroke-width="2" />
<line x1="427.0" y1="1003.0" x2="427.0" y2="1038.0" stroke="#000" stroke-width="2" />
<line x1="418.0" y1="1003.0" x2="436.0" y2="1003.0" stroke="#000" stroke-width="2" />
<line x1="418.0" y1="1038.0" x2="436.0" y2="1038.0" stroke="#000" stroke-width="2" />
<line x1="479.5" y1="1005.0" x2="479.5" y2="1048.4" stroke="#000" stroke-width="2" />
<line x1="470.5" y1="1005.0" x2="488.5" y2="1005.0" stroke="#000" stroke-width="2" />
<line x1="470.5" y1="1048.4" x2="488.5" y2="1048.4" stroke="#000" stroke-width="2" />
<line x1="532.5" y1="755.8" x2="532.5" y2="816.8" stroke="#000" stroke-width="2" />
<line x1="523.5" y1="755.8" x2="541.5" y2="755.8" stroke="#000" stroke-width="2" />
<line x1="523.5" y1="816.8" x2="541.5" y2="816.8" stroke="#000" stroke-width="2" />
<line x1="584.9" y1="836.5" x2="584.9" y2="877.5" stroke="#000" stroke-width="2" />
<line x1="575.9" y1="836.5" x2="593.9" y2="836.5" stroke="#000" stroke-width="2" />
<line x1="575.9" y1="877.5" x2="593.9" y2="877.5" stroke="#000" stroke-width="2" />
<line x1="637.6" y1="881.3" x2="637.6" y2="916.3" stroke="#000" stroke-width="2" />
<line x1="628.6" y1="881.3" x2="646.6" y2="881.3" stroke="#000" stroke-width="2" />
<line x1="628.6" y1="916.3" x2="646.6" y2="916.3" stroke="#000" stroke-width="2" />
<line x1="690.3" y1="1104.0" x2="690.3" y2="1125.0" stroke="#000" stroke-width="2" />
<line x1="681.3" y1="1104.0" x2="699.3" y2="1104.0" stroke="#000" stroke-width="2" />
<line x1="681.3" y1="1125.0" x2="699.3" y2="1125.0" stroke="#000" stroke-width="2" />
<polyline fill="none" stroke="#000" stroke-width="2" points="164.2,909.3 216.9,915.1 269.2,912.2 321.6,910.6 374.6,1017.6 427.0,1020.5 479.5,1026.7 532.5,786.3 584.9,857.0 637.6,898.8 690.3,1114.5 742.4,1106.4 795.1,1108.7"/>
<circle cx="164.2" cy="909.3" r="8.8" fill="#fff" stroke="#000" stroke-width="2" />
<circle cx="216.9" cy="915.1" r="8.8" fill="#fff" stroke="#000" stroke-width="2" />
<circle cx="269.2" cy="912.2" r="8.8" fill="#fff" stroke="#000" stroke-width="2" />
<circle cx="321.6" cy="910.6" r="8.8" fill="#fff" stroke="#000" stroke-width="2" />
<circle cx="374.6" cy="1017.6" r="8.8" fill="#fff" stroke="#000" stroke-width="2" />
<circle cx="427.0" cy="1020.5" r="8.8" fill="#fff" stroke="#000" stroke-width="2" />
<circle cx="479.5" cy="1026.7" r="8.8" fill="#fff" stroke="#000" stroke-width="2" />
<circle cx="532.5" cy="786.3" r="8.8" fill="#fff" stroke="#000" stroke-width="2" />
<circle cx="584.9" cy="857.0" r="8.8" fill="#fff" stroke="#000" stroke-width="2" />
<circle cx="637.6" cy="898.8" r="8.8" fill="#fff" stroke="#000" stroke-width="2" />
<circle cx="690.3" cy="1114.5" r="8.8" fill="#fff" stroke="#000" stroke-width="2" />
<circle cx="742.4" cy="1106.4" r="8.8" fill="#fff" stroke="#000" stroke-width="2" />
<circle cx="795.1" cy="1108.7" r="8.8" fill="#fff" stroke="#000" stroke-width="2" />
<circle cx="728.5" cy="701.5" r="9.3" fill="#fff" stroke="#000" stroke-width="2" />
<text x="753.6" y="710.2" font-size="26.3">Ctrl siRNA</text>
<circle cx="728.5" cy="742.6" r="9.3" fill="#ea5b0c" stroke="#000" stroke-width="2" />
<text x="753.6" y="751.3" font-size="26.3">GATA3 siRNA</text>
<text x="920.0" y="607.0" font-size="33" font-weight="bold">f</text>
<line x1="1060.2" y1="597.4" x2="1060.2" y2="1034.2" stroke="#000" stroke-width="2" />
<line x1="1044.2" y1="598.4" x2="1060.2" y2="598.4" stroke="#000" stroke-width="2" />
<text x="1033.2" y="609.4" font-size="32.9" text-anchor="end">20</text>
<line x1="1044.2" y1="707.1" x2="1060.2" y2="707.1" stroke="#000" stroke-width="2" />
<text x="1033.2" y="718.1" font-size="32.9" text-anchor="end">15</text>
<line x1="1044.2" y1="815.8" x2="1060.2" y2="815.8" stroke="#000" stroke-width="2" />
<text x="1033.2" y="826.8" font-size="32.9" text-anchor="end">10</text>
<line x1="1044.2" y1="924.5" x2="1060.2" y2="924.5" stroke="#000" stroke-width="2" />
<text x="1033.2" y="935.5" font-size="32.9" text-anchor="end">5</text>
<line x1="1044.2" y1="1033.2" x2="1060.2" y2="1033.2" stroke="#000" stroke-width="2" />
<text x="1033.2" y="1044.2" font-size="32.9" text-anchor="end">0</text>
<line x1="1044.2" y1="1033.2" x2="1472.5" y2="1033.2" stroke="#000" stroke-width="2" />
<line x1="1131.9" y1="1033.2" x2="1131.9" y2="1051.2" stroke="#000" stroke-width="2" />
<line x1="1211.2" y1="1033.2" x2="1211.2" y2="1051.2" stroke="#000" stroke-width="2" />
<line x1="1318.9" y1="1033.2" x2="1318.9" y2="1051.2" stroke="#000" stroke-width="2" />
<line x1="1398.1" y1="1033.2" x2="1398.1" y2="1051.2" stroke="#000" stroke-width="2" />
<text x="974.4" y="814.6" font-size="36.5" text-anchor="middle" transform="rotate(-90 974.4 814.6)">ECAR (mpH/min)</text>
<path d="M1097.6 1033.2V798.8H1166.6V1033.2" fill="#fff" stroke="#000" stroke-width="2.4"/>
<line x1="1095.9" y1="1033.2" x2="1168.3" y2="1033.2" stroke="#000" stroke-width="2" />
<path d="M1177.4 1033.2V680.4H1245.9V1033.2" fill="#c6c6c4" stroke="#000" stroke-width="2.4"/>
<line x1="1175.7" y1="1033.2" x2="1247.6" y2="1033.2" stroke="#000" stroke-width="2" />
<path d="M1284.9 1033.2V941.4H1353.8V1033.2" fill="#f0651a" stroke="#000" stroke-width="2.4"/>
<line x1="1283.2" y1="1033.2" x2="1355.5" y2="1033.2" stroke="#000" stroke-width="2" />
<path d="M1364.4 1033.2V913.3H1433.1V1033.2" fill="#b5491b" stroke="#000" stroke-width="2.4"/>
<line x1="1362.7" y1="1033.2" x2="1434.8" y2="1033.2" stroke="#000" stroke-width="2" />
<line x1="1131.9" y1="786.3" x2="1131.9" y2="807.2" stroke="#000" stroke-width="2" />
<line x1="1114.2" y1="786.3" x2="1149.7" y2="786.3" stroke="#000" stroke-width="2" />
<line x1="1114.2" y1="807.2" x2="1149.7" y2="807.2" stroke="#000" stroke-width="2" />
<line x1="1211.2" y1="662.0" x2="1211.2" y2="695.3" stroke="#000" stroke-width="2" />
<line x1="1193.5" y1="662.0" x2="1229.0" y2="662.0" stroke="#000" stroke-width="2" />
<line x1="1193.5" y1="695.3" x2="1229.0" y2="695.3" stroke="#000" stroke-width="2" />
<line x1="1318.9" y1="932.4" x2="1318.9" y2="947.8" stroke="#000" stroke-width="2.4" />
<line x1="1301.2" y1="932.4" x2="1336.7" y2="932.4" stroke="#000" stroke-width="2.4" />
<line x1="1301.2" y1="947.8" x2="1336.7" y2="947.8" stroke="#000" stroke-width="2.4" />
<line x1="1398.1" y1="909.9" x2="1398.1" y2="917.4" stroke="#000" stroke-width="2.4" />
<line x1="1380.3" y1="909.9" x2="1415.8" y2="909.9" stroke="#000" stroke-width="2.4" />
<line x1="1380.3" y1="917.4" x2="1415.8" y2="917.4" stroke="#000" stroke-width="2.4" />
<circle cx="1131.9" cy="776.2" r="8.3" fill="#000" />
<circle cx="1115.6" cy="807.5" r="8.3" fill="#000" />
<circle cx="1148.6" cy="806.5" r="8.3" fill="#000" />
<circle cx="1195.2" cy="655.1" r="8.3" fill="#000" />
<circle cx="1227.5" cy="670.5" r="8.3" fill="#000" />
<circle cx="1211.2" cy="711.2" r="8.3" fill="#000" />
<circle cx="1319.2" cy="925.6" r="8.3" fill="#000" />
<circle cx="1302.9" cy="948.4" r="8.3" fill="#000" />
<circle cx="1335.8" cy="945.1" r="8.3" fill="#000" />
<circle cx="1398.1" cy="907.6" r="8.3" fill="#000" />
<circle cx="1371.0" cy="918.4" r="8.3" fill="#000" />
<circle cx="1425.8" cy="914.2" r="8.3" fill="#000" />
<path d="M1117.3 620.0V609.5H1244.8V620.0" fill="none" stroke="#000" stroke-width="2" />
<text x="1180.5" y="597.4" font-size="24.3" text-anchor="middle">p = 0.0067</text>
<text x="1096.0" y="1091.9" font-size="27.2" text-anchor="end">stim</text>
<text x="1096.0" y="1124.2" font-size="27.2" text-anchor="end">oligomycin</text>
<text x="1131.9" y="1092.3" font-size="29" text-anchor="middle">+</text>
<text x="1208.6" y="1092.3" font-size="29" text-anchor="middle">+</text>
<text x="1320.8" y="1092.3" font-size="29" text-anchor="middle">+</text>
<text x="1397.5" y="1092.3" font-size="29" text-anchor="middle">+</text>
<text x="1128.3" y="1129.5" font-size="29" text-anchor="middle">-</text>
<text x="1208.6" y="1129.3" font-size="29" text-anchor="middle">+</text>
<text x="1316.9" y="1129.5" font-size="29" text-anchor="middle">-</text>
<text x="1397.5" y="1129.3" font-size="29" text-anchor="middle">+</text>
<line x1="1110.7" y1="1144.8" x2="1218.7" y2="1144.8" stroke="#000" stroke-width="1.6" />
<line x1="1304.5" y1="1144.8" x2="1412.8" y2="1144.8" stroke="#000" stroke-width="1.6" />
<text x="1164.2" y="1177.4" font-size="33.5" text-anchor="middle">Ctrl</text>
<text x="1165.2" y="1217.5" font-size="33.5" text-anchor="middle">siRNA</text>
<text x="1357.7" y="1177.4" font-size="33.5" text-anchor="middle">GATA3</text>
<text x="1359.0" y="1217.5" font-size="33.5" text-anchor="middle">siRNA</text>
<text x="1467.0" y="602.0" font-size="33" font-weight="bold">g</text>
<line x1="1614.5" y1="600.2" x2="1614.5" y2="1038.0" stroke="#000" stroke-width="2" />
<line x1="1597.5" y1="601.1" x2="1614.5" y2="601.1" stroke="#000" stroke-width="2" />
<text x="1591.5" y="612.1" font-size="32" text-anchor="end">20</text>
<line x1="1597.5" y1="710.1" x2="1614.5" y2="710.1" stroke="#000" stroke-width="2" />
<text x="1591.5" y="721.1" font-size="32" text-anchor="end">15</text>
<line x1="1597.5" y1="819.0" x2="1614.5" y2="819.0" stroke="#000" stroke-width="2" />
<text x="1591.5" y="830.0" font-size="32" text-anchor="end">10</text>
<line x1="1597.5" y1="928.0" x2="1614.5" y2="928.0" stroke="#000" stroke-width="2" />
<text x="1591.5" y="939.0" font-size="32" text-anchor="end">5</text>
<line x1="1597.5" y1="1037.0" x2="1614.5" y2="1037.0" stroke="#000" stroke-width="2" />
<text x="1591.5" y="1048.0" font-size="32" text-anchor="end">0</text>
<line x1="1597.2" y1="1037.0" x2="1905.7" y2="1037.0" stroke="#000" stroke-width="2" />
<line x1="1697.3" y1="1037.0" x2="1697.3" y2="1054.0" stroke="#000" stroke-width="2" />
<line x1="1821.6" y1="1037.0" x2="1821.6" y2="1054.0" stroke="#000" stroke-width="2" />
<text x="1533.9" y="832.2" font-size="33.3" text-anchor="middle" transform="rotate(-90 1533.9 832.2)">% pAMPK CD4+ T cells</text>
<path d="M1658.2 1037.0V942.8H1736.8V1037.0" fill="#d3d3d3" stroke="#000" stroke-width="2"/>
<line x1="1656.7" y1="1037.0" x2="1738.3" y2="1037.0" stroke="#000" stroke-width="2" />
<path d="M1781.9 1037.0V803.0H1861.9V1037.0" fill="#20b01c" stroke="#0a4a0a" stroke-width="1.6"/>
<line x1="1780.6" y1="1037.0" x2="1863.2" y2="1037.0" stroke="#000" stroke-width="2" />
<line x1="1697.3" y1="910.8" x2="1697.3" y2="970.5" stroke="#000" stroke-width="2" />
<line x1="1676.5" y1="910.8" x2="1718.0" y2="910.8" stroke="#000" stroke-width="2" />
<line x1="1676.5" y1="970.5" x2="1718.0" y2="970.5" stroke="#000" stroke-width="2" />
<line x1="1821.6" y1="758.5" x2="1821.6" y2="844.6" stroke="#000" stroke-width="2" />
<line x1="1800.8" y1="758.5" x2="1842.3" y2="758.5" stroke="#000" stroke-width="2" />
<line x1="1800.8" y1="844.6" x2="1842.3" y2="844.6" stroke="#000" stroke-width="2" />
<circle cx="1697.3" cy="862.5" r="9.2" fill="#000" />
<circle cx="1697.3" cy="884.4" r="9.2" fill="#000" />
<circle cx="1697.3" cy="949.6" r="9.2" fill="#000" />
<circle cx="1697.3" cy="993.3" r="9.2" fill="#000" />
<circle cx="1697.3" cy="1015.2" r="9.2" fill="#000" />
<circle cx="1821.6" cy="666.5" r="9.2" fill="#000" />
<circle cx="1821.6" cy="775.5" r="9.2" fill="#000" />
<circle cx="1821.6" cy="797.3" r="9.2" fill="#000" />
<circle cx="1821.6" cy="840.7" r="9.2" fill="#000" />
<circle cx="1821.6" cy="927.8" r="9.2" fill="#000" />
<path d="M1697.3 633.0V620.5H1821.6V633.0" fill="none" stroke="#000" stroke-width="2" />
<text x="1759.6" y="609.8" font-size="24" text-anchor="middle">p = 0.044</text>
<text x="1697.6" y="1091.8" font-size="31" text-anchor="middle">HU-</text>
<text x="1827.4" y="1091.8" font-size="31" text-anchor="middle">HU+</text>
<text x="1704.2" y="1141.4" font-size="33.2" text-anchor="middle">ex-vivo</text>
<text x="3.0" y="1269.2" font-size="33" font-weight="bold">h</text>
<line x1="162.2" y1="1273.2" x2="162.2" y2="1710.8" stroke="#000" stroke-width="2" />
<line x1="149.7" y1="1274.3" x2="162.2" y2="1274.3" stroke="#000" stroke-width="2" />
<text x="143.7" y="1284.7" font-size="32" text-anchor="end">5</text>
<line x1="149.7" y1="1361.4" x2="162.2" y2="1361.4" stroke="#000" stroke-width="2" />
<text x="143.7" y="1371.8" font-size="32" text-anchor="end">4</text>
<line x1="149.7" y1="1448.5" x2="162.2" y2="1448.5" stroke="#000" stroke-width="2" />
<text x="143.7" y="1458.9" font-size="32" text-anchor="end">3</text>
<line x1="149.7" y1="1535.6" x2="162.2" y2="1535.6" stroke="#000" stroke-width="2" />
<text x="143.7" y="1546.0" font-size="32" text-anchor="end">2</text>
<line x1="149.7" y1="1622.7" x2="162.2" y2="1622.7" stroke="#000" stroke-width="2" />
<text x="143.7" y="1633.1" font-size="32" text-anchor="end">1</text>
<line x1="149.7" y1="1709.8" x2="162.2" y2="1709.8" stroke="#000" stroke-width="2" />
<text x="143.7" y="1720.2" font-size="32" text-anchor="end">0</text>
<line x1="597.1" y1="1273.2" x2="597.1" y2="1710.8" stroke="#000" stroke-width="2" />
<line x1="597.1" y1="1274.2" x2="609.1" y2="1274.2" stroke="#000" stroke-width="2" />
<text x="618.6" y="1284.6" font-size="32.2">140</text>
<line x1="597.1" y1="1336.4" x2="609.1" y2="1336.4" stroke="#000" stroke-width="2" />
<text x="618.6" y="1346.8" font-size="32.2">120</text>
<line x1="597.1" y1="1398.7" x2="609.1" y2="1398.7" stroke="#000" stroke-width="2" />
<text x="618.6" y="1409.1" font-size="32.2">100</text>
<line x1="597.1" y1="1460.9" x2="609.1" y2="1460.9" stroke="#000" stroke-width="2" />
<text x="618.6" y="1471.3" font-size="32.2">80</text>
<line x1="597.1" y1="1523.1" x2="609.1" y2="1523.1" stroke="#000" stroke-width="2" />
<text x="618.6" y="1533.5" font-size="32.2">60</text>
<line x1="597.1" y1="1585.3" x2="609.1" y2="1585.3" stroke="#000" stroke-width="2" />
<text x="618.6" y="1595.7" font-size="32.2">40</text>
<line x1="597.1" y1="1647.6" x2="609.1" y2="1647.6" stroke="#000" stroke-width="2" />
<text x="618.6" y="1658.0" font-size="32.2">20</text>
<line x1="597.1" y1="1709.8" x2="609.1" y2="1709.8" stroke="#000" stroke-width="2" />
<text x="618.6" y="1720.2" font-size="32.2">0</text>
<line x1="149.6" y1="1709.8" x2="597.1" y2="1709.8" stroke="#000" stroke-width="2.2" />
<line x1="214.5" y1="1709.8" x2="214.5" y2="1722.1" stroke="#000" stroke-width="2.2" />
<line x1="270.6" y1="1709.8" x2="270.6" y2="1722.1" stroke="#000" stroke-width="2.2" />
<line x1="349.7" y1="1709.8" x2="349.7" y2="1722.1" stroke="#000" stroke-width="2.2" />
<line x1="405.8" y1="1709.8" x2="405.8" y2="1722.1" stroke="#000" stroke-width="2.2" />
<line x1="484.0" y1="1709.8" x2="484.0" y2="1722.1" stroke="#000" stroke-width="2.2" />
<line x1="540.4" y1="1709.8" x2="540.4" y2="1722.1" stroke="#000" stroke-width="2.2" />
<text x="63.7" y="1492.7" font-size="36.3" text-anchor="middle" transform="rotate(-90 63.7 1492.7)">Normalised gene</text>
<text x="104.6" y="1489.0" font-size="36.4" text-anchor="middle" transform="rotate(-90 104.6 1489.0)">expression relative to HU-</text>
<text x="734.4" y="1492.0" font-size="36.3" text-anchor="middle" transform="rotate(90 734.4 1492.0)">Normalised gene</text>
<text x="693.0" y="1493.5" font-size="36.4" text-anchor="middle" transform="rotate(90 693.0 1493.5)">expression relative to HU-</text>
<path d="M189.7 1709.8V1623.5H239.5V1709.8" fill="#fff" stroke="#000" stroke-width="2.6"/>
<line x1="187.9" y1="1709.8" x2="241.3" y2="1709.8" stroke="#000" stroke-width="2" />
<path d="M245.6 1709.8V1621.4H295.9V1709.8" fill="#20b01c" stroke="#000" stroke-width="2.6"/>
<line x1="243.8" y1="1709.8" x2="297.7" y2="1709.8" stroke="#000" stroke-width="2" />
<path d="M325.2 1709.8V1623.5H375.5V1709.8" fill="#fff" stroke="#000" stroke-width="2.6"/>
<line x1="323.4" y1="1709.8" x2="377.3" y2="1709.8" stroke="#000" stroke-width="2" />
<path d="M381.5 1709.8V1561.4H431.6V1709.8" fill="#20b01c" stroke="#000" stroke-width="2.6"/>
<line x1="379.7" y1="1709.8" x2="433.4" y2="1709.8" stroke="#000" stroke-width="2" />
<path d="M517.2 1709.8V1473.7H567.3V1709.8" fill="#20b01c" stroke="#000" stroke-width="2.6"/>
<line x1="515.4" y1="1709.8" x2="569.1" y2="1709.8" stroke="#000" stroke-width="2" />
<line x1="270.6" y1="1604.0" x2="270.6" y2="1635.3" stroke="#000" stroke-width="2" />
<line x1="257.1" y1="1604.0" x2="284.1" y2="1604.0" stroke="#000" stroke-width="2" />
<line x1="257.1" y1="1635.3" x2="284.1" y2="1635.3" stroke="#000" stroke-width="2" />
<line x1="406.3" y1="1530.1" x2="406.3" y2="1589.7" stroke="#000" stroke-width="2" />
<line x1="393.1" y1="1530.1" x2="419.6" y2="1530.1" stroke="#000" stroke-width="2" />
<line x1="393.1" y1="1589.7" x2="419.6" y2="1589.7" stroke="#000" stroke-width="2" />
<line x1="541.9" y1="1430.5" x2="541.9" y2="1514.0" stroke="#000" stroke-width="2" />
<line x1="528.6" y1="1430.5" x2="555.1" y2="1430.5" stroke="#000" stroke-width="2" />
<line x1="528.6" y1="1514.0" x2="555.1" y2="1514.0" stroke="#000" stroke-width="2" />
<circle cx="197.2" cy="1622.8" r="9" fill="#000" />
<circle cx="206.1" cy="1622.8" r="9" fill="#000" />
<circle cx="215.1" cy="1622.8" r="9" fill="#000" />
<circle cx="224.0" cy="1622.8" r="9" fill="#000" />
<circle cx="232.9" cy="1622.8" r="9" fill="#000" />
<circle cx="253.0" cy="1581.9" r="9" fill="#000" />
<circle cx="288.7" cy="1581.0" r="9" fill="#000" />
<circle cx="253.0" cy="1634.4" r="9" fill="#000" />
<circle cx="253.0" cy="1652.0" r="9" fill="#000" />
<circle cx="288.7" cy="1650.5" r="9" fill="#000" />
<circle cx="333.1" cy="1622.8" r="9" fill="#000" />
<circle cx="342.0" cy="1622.8" r="9" fill="#000" />
<circle cx="350.9" cy="1622.8" r="9" fill="#000" />
<circle cx="359.8" cy="1622.8" r="9" fill="#000" />
<circle cx="368.7" cy="1622.8" r="9" fill="#000" />
<circle cx="406.3" cy="1484.2" r="9" fill="#000" />
<circle cx="406.3" cy="1504.4" r="9" fill="#000" />
<circle cx="406.3" cy="1555.5" r="9" fill="#000" />
<circle cx="388.5" cy="1629.1" r="9" fill="#000" />
<circle cx="424.7" cy="1625.0" r="9" fill="#000" />
<circle cx="468.0" cy="1707.2" r="9" fill="#000" />
<circle cx="477.1" cy="1707.2" r="9" fill="#000" />
<circle cx="486.2" cy="1707.2" r="9" fill="#000" />
<circle cx="495.3" cy="1707.2" r="9" fill="#000" />
<circle cx="504.4" cy="1707.2" r="9" fill="#000" />
<circle cx="541.9" cy="1321.2" r="9" fill="#000" />
<circle cx="541.9" cy="1445.1" r="9" fill="#000" />
<circle cx="541.9" cy="1509.1" r="9" fill="#000" />
<circle cx="560.0" cy="1535.4" r="9" fill="#000" />
<circle cx="524.1" cy="1551.1" r="9" fill="#000" />
<path d="M470.3 1303.9V1291.4H576.1V1303.9" fill="none" stroke="#000" stroke-width="1.6" />
<text x="524.7" y="1281.0" font-size="24" text-anchor="middle">p = 0.0079</text>
<text x="213.3" y="1755.7" font-size="30.5" text-anchor="middle">HU-</text>
<text x="280.5" y="1755.7" font-size="30.5" text-anchor="middle">HU+</text>
<text x="352.0" y="1755.7" font-size="30.5" text-anchor="middle">HU-</text>
<text x="416.9" y="1755.7" font-size="30.5" text-anchor="middle">HU+</text>
<text x="485.5" y="1755.7" font-size="30.5" text-anchor="middle">HU-</text>
<text x="552.7" y="1755.7" font-size="30.5" text-anchor="middle">HU+</text>
<line x1="189.0" y1="1772.5" x2="301.8" y2="1772.5" stroke="#000" stroke-width="1.6" />
<line x1="324.0" y1="1772.5" x2="436.4" y2="1772.5" stroke="#000" stroke-width="1.6" />
<line x1="459.2" y1="1772.5" x2="572.3" y2="1772.5" stroke="#000" stroke-width="1.6" />
<text x="248.4" y="1809.8" font-size="33.2" text-anchor="middle" font-style="italic">GATA3</text>
<text x="382.7" y="1809.8" font-size="33.2" text-anchor="middle" font-style="italic">NRF2</text>
<text x="517.7" y="1809.8" font-size="33.2" text-anchor="middle" font-style="italic">PGC1α</text>
<text x="793.0" y="1267.2" font-size="33" font-weight="bold">i</text>
<line x1="978.7" y1="1278.3" x2="978.7" y2="1716.6" stroke="#000" stroke-width="2" />
<line x1="961.2" y1="1279.3" x2="978.7" y2="1279.3" stroke="#000" stroke-width="2" />
<text x="954.7" y="1290.8" font-size="32" text-anchor="end">150</text>
<line x1="961.2" y1="1352.0" x2="978.7" y2="1352.0" stroke="#000" stroke-width="2" />
<text x="954.7" y="1363.5" font-size="32" text-anchor="end">125</text>
<line x1="961.2" y1="1424.7" x2="978.7" y2="1424.7" stroke="#000" stroke-width="2" />
<text x="954.7" y="1436.2" font-size="32" text-anchor="end">100</text>
<line x1="961.2" y1="1497.4" x2="978.7" y2="1497.4" stroke="#000" stroke-width="2" />
<text x="954.7" y="1508.9" font-size="32" text-anchor="end">75</text>
<line x1="961.2" y1="1570.2" x2="978.7" y2="1570.2" stroke="#000" stroke-width="2" />
<text x="954.7" y="1581.6" font-size="32" text-anchor="end">50</text>
<line x1="961.2" y1="1642.9" x2="978.7" y2="1642.9" stroke="#000" stroke-width="2" />
<text x="954.7" y="1654.3" font-size="32" text-anchor="end">25</text>
<line x1="961.2" y1="1715.6" x2="978.7" y2="1715.6" stroke="#000" stroke-width="2" />
<text x="954.7" y="1727.1" font-size="32" text-anchor="end">0</text>
<line x1="961.1" y1="1715.6" x2="1270.0" y2="1715.6" stroke="#000" stroke-width="2" />
<line x1="1045.8" y1="1715.6" x2="1045.8" y2="1733.1" stroke="#000" stroke-width="2" />
<line x1="1122.7" y1="1715.6" x2="1122.7" y2="1733.1" stroke="#000" stroke-width="2" />
<line x1="1199.5" y1="1715.6" x2="1199.5" y2="1733.1" stroke="#000" stroke-width="2" />
<text x="841.3" y="1493.4" font-size="33.5" text-anchor="middle" transform="rotate(-90 841.3 1493.4)">Normalised <tspan font-style="italic">PGC1α</tspan></text>
<text x="880.8" y="1491.2" font-size="33.4" text-anchor="middle" transform="rotate(-90 880.8 1491.2)">expression relative to HU-</text>
<path d="M1013.2 1715.6V1710.8H1078.8V1715.6" fill="#fff" stroke="#000" stroke-width="2.4"/>
<line x1="1011.5" y1="1715.6" x2="1080.5" y2="1715.6" stroke="#000" stroke-width="2" />
<path d="M1090.2 1715.6V1476.1H1155.9V1715.6" fill="#47b80c" stroke="#000" stroke-width="2.2"/>
<line x1="1088.6" y1="1715.6" x2="1157.5" y2="1715.6" stroke="#000" stroke-width="2" />
<path d="M1166.5 1715.6V1670.7H1232.9V1715.6" fill="#17622a" stroke="#000" stroke-width="2.2"/>
<line x1="1164.9" y1="1715.6" x2="1234.5" y2="1715.6" stroke="#000" stroke-width="2" />
<line x1="1123.0" y1="1430.2" x2="1123.0" y2="1519.6" stroke="#000" stroke-width="2" />
<line x1="1106.0" y1="1430.2" x2="1140.0" y2="1430.2" stroke="#000" stroke-width="2" />
<line x1="1106.0" y1="1519.6" x2="1140.0" y2="1519.6" stroke="#000" stroke-width="2" />
<line x1="1199.8" y1="1655.4" x2="1199.8" y2="1682.9" stroke="#000" stroke-width="2" />
<line x1="1182.8" y1="1655.4" x2="1216.8" y2="1655.4" stroke="#000" stroke-width="2" />
<line x1="1182.8" y1="1682.9" x2="1216.8" y2="1682.9" stroke="#000" stroke-width="2" />
<circle cx="1018.4" cy="1712.4" r="6.7" fill="#000" />
<circle cx="1036.8" cy="1712.4" r="6.7" fill="#000" />
<circle cx="1055.2" cy="1712.4" r="6.7" fill="#000" />
<circle cx="1073.9" cy="1712.4" r="6.7" fill="#000" />
<circle cx="1123.0" cy="1352.2" r="6.7" fill="#000" />
<circle cx="1123.0" cy="1467.6" r="6.7" fill="#000" />
<circle cx="1123.0" cy="1528.0" r="6.7" fill="#000" />
<circle cx="1123.0" cy="1552.0" r="6.7" fill="#000" />
<circle cx="1199.8" cy="1643.7" r="6.7" fill="#000" />
<circle cx="1186.4" cy="1662.4" r="6.7" fill="#000" />
<circle cx="1212.9" cy="1664.2" r="6.7" fill="#000" />
<circle cx="1199.8" cy="1706.5" r="6.7" fill="#000" />
<path d="M1012.2 1326.6V1313.6H1114.5V1326.6" fill="none" stroke="#000" stroke-width="2" />
<path d="M1131.7 1326.6V1313.6H1234.0V1326.6" fill="none" stroke="#000" stroke-width="2" />
<text x="1063.7" y="1303.7" font-size="24" text-anchor="middle">p = 0.0014</text>
<text x="1186.4" y="1303.7" font-size="24" text-anchor="middle">p = 0.0421</text>
<text x="987.3" y="1771.7" font-size="36" text-anchor="end">HU</text>
<text x="988.8" y="1815.5" font-size="36" text-anchor="end">iAMPK</text>
<text x="1047.6" y="1768.9" font-size="36" text-anchor="middle">-</text>
<text x="1047.6" y="1812.7" font-size="36" text-anchor="middle">-</text>
<text x="1121.8" y="1768.4" font-size="36" text-anchor="middle">+</text>
<text x="1121.8" y="1812.7" font-size="36" text-anchor="middle">-</text>
<text x="1200.7" y="1768.4" font-size="36" text-anchor="middle">+</text>
<text x="1200.7" y="1812.2" font-size="36" text-anchor="middle">+</text>
<text x="1323.0" y="1267.2" font-size="33" font-weight="bold">j</text>
<line x1="1459.4" y1="1288.4" x2="1459.4" y2="1726.2" stroke="#000" stroke-width="2" />
<line x1="1447.2" y1="1289.2" x2="1459.4" y2="1289.2" stroke="#000" stroke-width="2" />
<text x="1440.7" y="1300.7" font-size="32" text-anchor="end">4000</text>
<line x1="1447.2" y1="1398.2" x2="1459.4" y2="1398.2" stroke="#000" stroke-width="2" />
<text x="1440.7" y="1409.7" font-size="32" text-anchor="end">3000</text>
<line x1="1447.2" y1="1507.2" x2="1459.4" y2="1507.2" stroke="#000" stroke-width="2" />
<text x="1440.7" y="1518.7" font-size="32" text-anchor="end">2000</text>
<line x1="1447.2" y1="1616.2" x2="1459.4" y2="1616.2" stroke="#000" stroke-width="2" />
<text x="1440.7" y="1627.7" font-size="32" text-anchor="end">1000</text>
<line x1="1447.2" y1="1725.2" x2="1459.4" y2="1725.2" stroke="#000" stroke-width="2" />
<text x="1440.7" y="1736.7" font-size="32" text-anchor="end">0</text>
<line x1="1447.2" y1="1725.2" x2="1751.0" y2="1725.2" stroke="#000" stroke-width="2" />
<line x1="1527.8" y1="1725.2" x2="1527.8" y2="1737.5" stroke="#000" stroke-width="2" />
<line x1="1603.5" y1="1725.2" x2="1603.5" y2="1737.5" stroke="#000" stroke-width="2" />
<line x1="1679.4" y1="1725.2" x2="1679.4" y2="1737.5" stroke="#000" stroke-width="2" />
<text x="1336.7" y="1501.5" font-size="33.5" text-anchor="middle" transform="rotate(-90 1336.7 1501.5)">MFI GATA3 CD4+ T cells</text>
<path d="M1495.4 1725.2V1522.1H1561.1V1725.2" fill="#d3d3d3" stroke="#000" stroke-width="2.4"/>
<line x1="1493.7" y1="1725.2" x2="1562.8" y2="1725.2" stroke="#000" stroke-width="2" />
<path d="M1571.1 1725.2V1405.0H1636.7V1725.2" fill="#20b01c" stroke="#000" stroke-width="2.4"/>
<line x1="1569.4" y1="1725.2" x2="1638.4" y2="1725.2" stroke="#000" stroke-width="2" />
<path d="M1646.7 1725.2V1573.2H1712.7V1725.2" fill="#266428" stroke="#000" stroke-width="2.4"/>
<line x1="1645.0" y1="1725.2" x2="1714.4" y2="1725.2" stroke="#000" stroke-width="2" />
<line x1="1528.4" y1="1495.6" x2="1528.4" y2="1545.0" stroke="#000" stroke-width="2" />
<line x1="1511.4" y1="1495.6" x2="1545.4" y2="1495.6" stroke="#000" stroke-width="2" />
<line x1="1511.4" y1="1545.0" x2="1545.4" y2="1545.0" stroke="#000" stroke-width="2" />
<line x1="1603.7" y1="1381.4" x2="1603.7" y2="1424.9" stroke="#000" stroke-width="2" />
<line x1="1586.7" y1="1381.4" x2="1620.7" y2="1381.4" stroke="#000" stroke-width="2" />
<line x1="1586.7" y1="1424.9" x2="1620.7" y2="1424.9" stroke="#000" stroke-width="2" />
<line x1="1680.0" y1="1547.3" x2="1680.0" y2="1595.8" stroke="#000" stroke-width="2" />
<line x1="1663.0" y1="1547.3" x2="1697.0" y2="1547.3" stroke="#000" stroke-width="2" />
<line x1="1663.0" y1="1595.8" x2="1697.0" y2="1595.8" stroke="#000" stroke-width="2" />
<circle cx="1528.4" cy="1472.0" r="8.8" fill="#000" />
<circle cx="1502.1" cy="1508.8" r="8.8" fill="#000" />
<circle cx="1553.8" cy="1510.5" r="8.8" fill="#000" />
<circle cx="1528.4" cy="1589.7" r="8.8" fill="#000" />
<circle cx="1603.7" cy="1350.4" r="8.8" fill="#000" />
<circle cx="1603.7" cy="1390.4" r="8.8" fill="#000" />
<circle cx="1603.7" cy="1421.1" r="8.8" fill="#000" />
<circle cx="1603.7" cy="1452.1" r="8.8" fill="#000" />
<circle cx="1680.0" cy="1500.0" r="8.8" fill="#000" />
<circle cx="1680.0" cy="1589.7" r="8.8" fill="#000" />
<circle cx="1654.3" cy="1603.1" r="8.8" fill="#000" />
<circle cx="1705.4" cy="1594.1" r="8.8" fill="#000" />
<path d="M1497.7 1324.7V1305.4H1590.6V1324.7" fill="none" stroke="#000" stroke-width="1.5" />
<path d="M1612.5 1324.7V1305.4H1705.7V1324.7" fill="none" stroke="#000" stroke-width="1.5" />
<text x="1580.0" y="1287.6" font-size="24" text-anchor="middle">p = 0.0286</text>
<text x="1715.3" y="1287.6" font-size="24" text-anchor="middle">p = 0.0045</text>
<text x="1468.3" y="1772.3" font-size="36" text-anchor="end">HU</text>
<text x="1469.8" y="1817.0" font-size="36" text-anchor="end">iAMPK</text>
<text x="1528.7" y="1769.5" font-size="36" text-anchor="middle">-</text>
<text x="1528.7" y="1814.2" font-size="36" text-anchor="middle">-</text>
<text x="1605.5" y="1769.0" font-size="36" text-anchor="middle">+</text>
<text x="1605.5" y="1814.2" font-size="36" text-anchor="middle">-</text>
<text x="1681.5" y="1769.0" font-size="36" text-anchor="middle">+</text>
<text x="1681.5" y="1813.7" font-size="36" text-anchor="middle">+</text>
<text x="7.0" y="1909.7" font-size="33" font-weight="bold">k</text>
<line x1="241.2" y1="1888.7" x2="1188.0" y2="1888.7" stroke="#161616" stroke-width="4.5" stroke-dasharray="17 17.42"/>
<line x1="241.2" y1="2286.3" x2="1188.0" y2="2286.3" stroke="#161616" stroke-width="4.5" stroke-dasharray="17 17.42"/>
<path d="M1202 1898.2 V1915" fill="none" stroke="#161616" stroke-width="4.5" />
<path d="M1202 1933.5 V1950.3" fill="none" stroke="#161616" stroke-width="4.5" />
<path d="M1202 1967.8 V1984.6" fill="none" stroke="#161616" stroke-width="4.5" />
<path d="M1202 2191 V2207.3" fill="none" stroke="#161616" stroke-width="4.5" />
<path d="M1202 2226.6 V2242.7" fill="none" stroke="#161616" stroke-width="4.5" />
<path d="M1202 2261.5 V2271 Q1202 2274.5 1200.8 2276.5" fill="none" stroke="#161616" stroke-width="4.5" />
<path d="M224.5 2284 Q217.6 2278 218 2267.2" fill="none" stroke="#161616" stroke-width="4.5" />
<ellipse cx="246" cy="2087.6" rx="170.3" ry="178" fill="#96e6a9" stroke="#3fa864" stroke-width="4.2"/>
<ellipse cx="277" cy="2095" rx="96.8" ry="94" fill="#3fa065"/>
<polygon points="218.1,2243.0 207.3,2265.0 228.9,2265.0" fill="#161616"/>
<line x1="231.3" y1="1903.6" x2="231.3" y2="1921.0" stroke="#161616" stroke-width="4.5" />
<line x1="217.8" y1="1930.0" x2="244.9" y2="1930.0" stroke="#161616" stroke-width="5" />
<text x="141.0" y="1996.0" font-size="26.5" textLength="47.0" lengthAdjust="spacingAndGlyphs" fill="#1c1c1c" stroke="#1c1c1c" stroke-width="0.3">ROS</text>
<defs><radialGradient id="rg1" cx="38%" cy="32%" r="70%"><stop offset="0" stop-color="#ff9aa0"/><stop offset="0.25" stop-color="#f4666e"/><stop offset="1" stop-color="#e2505c"/></radialGradient><radialGradient id="rg2" cx="38%" cy="32%" r="70%"><stop offset="0" stop-color="#e0a098"/><stop offset="0.25" stop-color="#cc7c72"/><stop offset="1" stop-color="#b96a62"/></radialGradient><radialGradient id="rg3" cx="38%" cy="32%" r="70%"><stop offset="0" stop-color="#c0b49a"/><stop offset="0.25" stop-color="#a69c82"/><stop offset="1" stop-color="#968c72"/></radialGradient></defs>
<circle cx="204.7" cy="1949.2" r="8.5" fill="url(#rg3)" opacity="1"/>
<circle cx="236.9" cy="1949.2" r="8.5" fill="url(#rg2)" opacity="1"/>
<circle cx="255.2" cy="1953.5" r="8.5" fill="url(#rg3)" opacity="0.4"/>
<circle cx="204.7" cy="1973.4" r="8.5" fill="url(#rg2)" opacity="1"/>
<circle cx="250.3" cy="1972.3" r="8.5" fill="url(#rg3)" opacity="1"/>
<circle cx="211.7" cy="1993.3" r="8.5" fill="url(#rg3)" opacity="1"/>
<circle cx="236.9" cy="1992.3" r="8.5" fill="url(#rg2)" opacity="1"/>
<circle cx="227.9" cy="1967.9" r="8.5" fill="url(#rg1)" opacity="1"/>
<line x1="258.6" y1="2001.0" x2="270.5" y2="2025.6" stroke="#161616" stroke-width="4.5" />
<polygon points="278.2,2040.3 277.9,2015.3 258.3,2025.1" fill="#161616"/>
<rect x="213.9" y="2070" width="3.8" height="21" fill="#e26068"/>
<rect x="213.9" y="2091" width="3.8" height="19" fill="#86202a"/>
<rect x="227.9" y="2070" width="3.8" height="21" fill="#e26068"/>
<rect x="227.9" y="2091" width="3.8" height="19" fill="#86202a"/>
<rect x="241.6" y="2070" width="3.8" height="21" fill="#e26068"/>
<rect x="241.6" y="2091" width="3.8" height="19" fill="#86202a"/>
<rect x="255.4" y="2070" width="3.8" height="21" fill="#e26068"/>
<rect x="255.4" y="2091" width="3.8" height="19" fill="#86202a"/>
<rect x="208.8" y="2065.8" width="57.5" height="6.8" fill="#b0241c"/>
<rect x="208.8" y="2108.1" width="58.9" height="6.8" fill="#4a0c10"/>
<rect x="296.6" y="2070" width="3.8" height="21" fill="#e26068"/>
<rect x="296.6" y="2091" width="3.8" height="19" fill="#86202a"/>
<rect x="310.3" y="2070" width="3.8" height="21" fill="#e26068"/>
<rect x="310.3" y="2091" width="3.8" height="19" fill="#86202a"/>
<rect x="324.3" y="2070" width="3.8" height="21" fill="#e26068"/>
<rect x="324.3" y="2091" width="3.8" height="19" fill="#86202a"/>
<rect x="337.9" y="2070" width="3.8" height="21" fill="#e26068"/>
<rect x="337.9" y="2091" width="3.8" height="19" fill="#86202a"/>
<rect x="290.0" y="2065.8" width="57.1" height="6.8" fill="#b0241c"/>
<rect x="288.0" y="2108.1" width="59.1" height="6.8" fill="#4a0c10"/>
<rect x="-4.4" y="-2.0" width="8.7" height="4.1" fill="#e8646a" transform="translate(276.7 2048.9) rotate(12)"/>
<rect x="-4.4" y="-3.6" width="8.7" height="7.3" fill="#b0241c" transform="translate(293.4 2052.5) rotate(30)"/>
<rect x="-3.3" y="-3.3" width="6.5" height="6.5" fill="#b0241c" transform="translate(268.3 2057.9) rotate(40)"/>
<rect x="-2.5" y="-1.8" width="5.1" height="3.6" fill="#e8646a" transform="translate(284.7 2058.3) rotate(-30)"/>
<rect x="-1.8" y="-3.6" width="3.6" height="7.3" fill="#e8646a" transform="translate(274.1 2069.2) rotate(15)"/>
<rect x="-1.6" y="-4.7" width="3.2" height="9.4" fill="#e8646a" transform="translate(283.7 2070.6) rotate(-12)"/>
<rect x="-4.0" y="-1.8" width="8.0" height="3.6" fill="#8a2024" transform="translate(279.2 2081.2) rotate(35)"/>
<rect x="-2.5" y="-2.0" width="5.1" height="4.1" fill="#8a2024" transform="translate(283.7 2091.2) rotate(-35)"/>
<rect x="-3.6" y="-2.0" width="7.3" height="4.1" fill="#a02428" transform="translate(271.2 2098.5) rotate(35)"/>
<rect x="-5.4" y="-2.0" width="10.9" height="4.1" fill="#a02428" transform="translate(282.8 2104.4) rotate(-45)"/>
<rect x="-2.0" y="-3.6" width="4.1" height="7.3" fill="#a02428" transform="translate(279.3 2119.2) rotate(30)"/>
<rect x="-3.3" y="-2.9" width="6.5" height="5.8" fill="#4a0c10" transform="translate(268.0 2122.6) rotate(40)"/>
<rect x="-4.0" y="-3.6" width="8.0" height="7.3" fill="#4a0c10" transform="translate(289.5 2123.6) rotate(35)"/>
<g transform="translate(133.6 2147.6) rotate(-14)" fill="none" stroke-linecap="round">
<path d="M-12.5 -1.5 Q0 4.5 12.5 -1.5" stroke="#72b680" stroke-width="25"/>
<path d="M-12.5 -1.5 Q0 4.5 12.5 -1.5" stroke="#a3dcab" stroke-width="22.6"/>
<path d="M-12.5 -1.5 Q0 4.5 12.5 -1.5" stroke="#e6fbe6" stroke-width="18"/>
<path d="M-13.6 -6.8L-17.1 1.5 M-14.9 8.9L-11.3 -2.3 M-9.3 -8.6L-10.4 -5.2 M-6.1 -8.1L-8.6 3.5 M-10.0 9.9L-9.2 6.4 M-5.0 10.5L-3.8 -1.2 M-3.1 -7.8L-3.4 -4.2 M0.0 -7.7L0.0 4.1 M0.0 10.7L0.0 7.1 M5.0 10.5L3.8 -1.2 M3.1 -7.8L3.4 -4.2 M6.1 -8.1L8.6 3.5 M10.0 9.9L9.2 6.4 M14.9 8.9L11.3 -2.3 M9.3 -8.6L10.4 -5.2 M13.6 -6.8L17.1 1.5" stroke="#84c892" stroke-width="2" stroke-linecap="butt"/>
</g>
<g transform="translate(135.3 2187.3) rotate(41)" fill="none" stroke-linecap="round">
<path d="M-12.5 -1.5 Q0 4.5 12.5 -1.5" stroke="#72b680" stroke-width="25"/>
<path d="M-12.5 -1.5 Q0 4.5 12.5 -1.5" stroke="#a3dcab" stroke-width="22.6"/>
<path d="M-12.5 -1.5 Q0 4.5 12.5 -1.5" stroke="#e6fbe6" stroke-width="18"/>
<path d="M-13.6 -6.8L-17.1 1.5 M-14.9 8.9L-11.3 -2.3 M-9.3 -8.6L-10.4 -5.2 M-6.1 -8.1L-8.6 3.5 M-10.0 9.9L-9.2 6.4 M-5.0 10.5L-3.8 -1.2 M-3.1 -7.8L-3.4 -4.2 M0.0 -7.7L0.0 4.1 M0.0 10.7L0.0 7.1 M5.0 10.5L3.8 -1.2 M3.1 -7.8L3.4 -4.2 M6.1 -8.1L8.6 3.5 M10.0 9.9L9.2 6.4 M14.9 8.9L11.3 -2.3 M9.3 -8.6L10.4 -5.2 M13.6 -6.8L17.1 1.5" stroke="#84c892" stroke-width="2" stroke-linecap="butt"/>
</g>
<g transform="translate(172.8 2175.6) rotate(8)" fill="none" stroke-linecap="round">
<path d="M-12.5 1.6 Q0 -4.8 12.5 1.6" stroke="#72b680" stroke-width="25"/>
<path d="M-12.5 1.6 Q0 -4.8 12.5 1.6" stroke="#a3dcab" stroke-width="22.6"/>
<path d="M-12.5 1.6 Q0 -4.8 12.5 1.6" stroke="#e6fbe6" stroke-width="18"/>
<path d="M-18.8 -5.0L-15.0 3.3 M-9.1 8.5L-12.9 -2.6 M-15.1 -8.9L-13.9 -5.5 M-10.1 -9.9L-7.5 1.6 M-6.0 8.0L-6.8 4.5 M-3.0 7.7L-4.3 -4.0 M-5.1 -10.6L-4.7 -7.0 M0.0 -10.8L0.0 1.0 M0.0 7.6L0.0 4.0 M3.0 7.7L4.3 -4.0 M5.1 -10.6L4.7 -7.0 M10.1 -9.9L7.5 1.6 M6.0 8.0L6.8 4.5 M9.1 8.5L12.9 -2.6 M15.1 -8.9L13.9 -5.5 M18.8 -5.0L15.0 3.3" stroke="#84c892" stroke-width="2" stroke-linecap="butt"/>
</g>
<g transform="translate(185.4 2212.6) rotate(47)" fill="none" stroke-linecap="round">
<path d="M-12.5 1.5 Q0 -4.5 12.5 1.5" stroke="#72b680" stroke-width="25"/>
<path d="M-12.5 1.5 Q0 -4.5 12.5 1.5" stroke="#a3dcab" stroke-width="22.6"/>
<path d="M-12.5 1.5 Q0 -4.5 12.5 1.5" stroke="#e6fbe6" stroke-width="18"/>
<path d="M-18.7 -5.1L-15.1 3.3 M-9.3 8.6L-12.9 -2.6 M-14.9 -8.9L-13.8 -5.5 M-10.0 -9.9L-7.5 1.6 M-6.1 8.1L-6.9 4.6 M-3.1 7.8L-4.3 -3.9 M-5.0 -10.5L-4.6 -6.9 M0.0 -10.7L0.0 1.1 M0.0 7.7L0.0 4.1 M3.1 7.8L4.3 -3.9 M5.0 -10.5L4.6 -6.9 M10.0 -9.9L7.5 1.6 M6.1 8.1L6.9 4.6 M9.3 8.6L12.9 -2.6 M14.9 -8.9L13.8 -5.5 M18.7 -5.1L15.1 3.3" stroke="#84c892" stroke-width="2" stroke-linecap="butt"/>
</g>
<g transform="translate(227.2 2211.6) rotate(52)" fill="none" stroke-linecap="round">
<path d="M-12.5 -1.3 Q0 3.9 12.5 -1.3" stroke="#72b680" stroke-width="25"/>
<path d="M-12.5 -1.3 Q0 3.9 12.5 -1.3" stroke="#a3dcab" stroke-width="22.6"/>
<path d="M-12.5 -1.3 Q0 3.9 12.5 -1.3" stroke="#e6fbe6" stroke-width="18"/>
<path d="M-13.9 -6.9L-17.0 1.7 M-14.5 9.0L-11.4 -2.4 M-9.6 -8.7L-10.6 -5.3 M-6.4 -8.3L-8.5 3.3 M-9.7 9.8L-9.1 6.3 M-4.9 10.3L-3.8 -1.4 M-3.2 -8.0L-3.5 -4.4 M0.0 -7.9L0.0 3.9 M0.0 10.5L0.0 6.9 M4.9 10.3L3.8 -1.4 M3.2 -8.0L3.5 -4.4 M6.4 -8.3L8.5 3.3 M9.7 9.8L9.1 6.3 M14.5 9.0L11.4 -2.4 M9.6 -8.7L10.6 -5.3 M13.9 -6.9L17.0 1.7" stroke="#84c892" stroke-width="2" stroke-linecap="butt"/>
</g>
<path d="M361.6 2092 H447 Q461.2 2092 461.2 2077 V2013.5 Q461.2 1998 476.5 1998 H520" fill="none" stroke="#161616" stroke-width="5.4" stroke-linecap="butt" stroke-linejoin="round"/>
<path d="M447 2092 Q461.2 2092 461.2 2107 V2170 Q461.2 2185.4 476.5 2185.4 H520" fill="none" stroke="#161616" stroke-width="5.4" stroke-linecap="butt" stroke-linejoin="round"/>
<polygon points="540.6,1998.0 518.6,1987.0 518.6,2009.0" fill="#161616"/>
<polygon points="540.6,2185.4 518.6,2174.4 518.6,2196.4" fill="#161616"/>
<g fill="#cbc8c8"><circle cx="665.1" cy="2000.5" r="11.1"/><circle cx="662.5" cy="2007.1" r="11.5"/><circle cx="654.8" cy="2010.6" r="12.7"/><circle cx="644.8" cy="2014.8" r="11.1"/><circle cx="627.8" cy="2016.2" r="11.3"/><circle cx="596.9" cy="2016.0" r="11.6"/><circle cx="579.2" cy="2015.7" r="10.1"/><circle cx="568.6" cy="2011.7" r="11.3"/><circle cx="562.3" cy="2007.0" r="11.7"/><circle cx="560.7" cy="2000.5" r="12.3"/><circle cx="560.5" cy="1993.1" r="9.8"/><circle cx="568.0" cy="1988.7" r="10.6"/><circle cx="579.0" cy="1984.9" r="9.8"/><circle cx="597.2" cy="1985.7" r="12.3"/><circle cx="627.6" cy="1985.3" r="11.9"/><circle cx="645.7" cy="1984.8" r="9.6"/><circle cx="654.6" cy="1990.4" r="12.9"/><circle cx="661.1" cy="1994.4" r="12.9"/><circle cx="564.4" cy="2002.0" r="15.5"/><circle cx="576.4" cy="2001.6" r="15.5"/><circle cx="588.4" cy="1997.0" r="15.5"/><circle cx="600.3" cy="1995.6" r="15.5"/><circle cx="612.3" cy="2000.7" r="15.5"/><circle cx="624.3" cy="1996.0" r="15.5"/><circle cx="636.2" cy="1997.4" r="15.5"/><circle cx="648.2" cy="1997.9" r="15.5"/><circle cx="660.2" cy="1995.8" r="15.5"/></g>
<g fill="#dbd9d9"><circle cx="665.1" cy="2000.5" r="10.1"/><circle cx="662.5" cy="2007.1" r="10.5"/><circle cx="654.8" cy="2010.6" r="11.7"/><circle cx="644.8" cy="2014.8" r="10.1"/><circle cx="627.8" cy="2016.2" r="10.3"/><circle cx="596.9" cy="2016.0" r="10.6"/><circle cx="579.2" cy="2015.7" r="9.1"/><circle cx="568.6" cy="2011.7" r="10.3"/><circle cx="562.3" cy="2007.0" r="10.7"/><circle cx="560.7" cy="2000.5" r="11.3"/><circle cx="560.5" cy="1993.1" r="8.8"/><circle cx="568.0" cy="1988.7" r="9.6"/><circle cx="579.0" cy="1984.9" r="8.8"/><circle cx="597.2" cy="1985.7" r="11.3"/><circle cx="627.6" cy="1985.3" r="10.9"/><circle cx="645.7" cy="1984.8" r="8.6"/><circle cx="654.6" cy="1990.4" r="11.9"/><circle cx="661.1" cy="1994.4" r="11.9"/><circle cx="564.4" cy="2002.0" r="14.5"/><circle cx="576.4" cy="2001.6" r="14.5"/><circle cx="588.4" cy="1997.0" r="14.5"/><circle cx="600.3" cy="1995.6" r="14.5"/><circle cx="612.3" cy="2000.7" r="14.5"/><circle cx="624.3" cy="1996.0" r="14.5"/><circle cx="636.2" cy="1997.4" r="14.5"/><circle cx="648.2" cy="1997.9" r="14.5"/><circle cx="660.2" cy="1995.8" r="14.5"/></g>
<g fill="#e9e7e7" opacity="0.85"><circle cx="625.5" cy="2009.3" r="7.2"/><circle cx="660.0" cy="2009.2" r="7.7"/><circle cx="561.5" cy="1999.2" r="7.8"/><circle cx="628.4" cy="2015.1" r="4.5"/><circle cx="609.0" cy="1991.2" r="6.2"/><circle cx="620.3" cy="1982.7" r="4.9"/><circle cx="588.5" cy="2015.6" r="7.1"/><circle cx="575.6" cy="2011.3" r="4.6"/><circle cx="625.0" cy="1986.8" r="4.0"/><circle cx="652.3" cy="1989.8" r="4.9"/><circle cx="664.3" cy="2014.0" r="5.2"/><circle cx="662.0" cy="2001.9" r="6.7"/><circle cx="580.5" cy="2016.5" r="6.8"/><circle cx="662.6" cy="2014.8" r="5.2"/><circle cx="597.3" cy="1988.3" r="4.6"/><circle cx="565.4" cy="1993.2" r="6.4"/><circle cx="558.8" cy="2006.9" r="5.4"/><circle cx="591.8" cy="2012.1" r="5.9"/><circle cx="592.4" cy="1999.8" r="6.8"/><circle cx="564.5" cy="2017.8" r="4.1"/><circle cx="639.2" cy="2013.0" r="4.1"/><circle cx="643.3" cy="1995.6" r="6.3"/></g>
<text x="575.7" y="2008.8" font-size="26.5" textLength="72.3" lengthAdjust="spacingAndGlyphs" fill="#1c1c1c" stroke="#1c1c1c" stroke-width="0.3">AMPK</text>
<line x1="683.7" y1="1997.9" x2="733.0" y2="1997.9" stroke="#161616" stroke-width="5.4" />
<polygon points="753.5,1997.9 732.0,1986.9 732.0,2008.9" fill="#161616"/>
<text x="558.0" y="2193.3" font-size="26.5" textLength="49.7" lengthAdjust="spacingAndGlyphs" fill="#1c1c1c" stroke="#1c1c1c" stroke-width="0.3">DDR</text>
<line x1="626.1" y1="2185.4" x2="776.0" y2="2185.4" stroke="#161616" stroke-width="5.4" />
<polygon points="797.0,2185.4 775.0,2174.4 775.0,2196.4" fill="#161616"/>
<rect x="763.4" y="1951" width="268.2" height="100" rx="14" ry="14" fill="#fff" stroke="#161616" stroke-width="2"/>
<path d="M798.1 1993.0V1961.2H834.0" fill="none" stroke="#1c1c1c" stroke-width="1.7" />
<polygon points="841.0,1961.2 831.5,1956.8 831.5,1965.6" fill="#1c1c1c"/>
<text x="805.1" y="1985.2" font-size="19" textLength="58.6" lengthAdjust="spacingAndGlyphs" fill="#1c1c1c" stroke="#1c1c1c" stroke-width="0.3">PGC1α</text>
<rect x="798.2" y="1994.2" width="2.8" height="14.4" fill="#ec6e6c"/>
<rect x="798.2" y="2008.6" width="2.8" height="14.3" fill="#3f9cc6"/>
<rect x="808.1" y="1994.2" width="2.8" height="14.4" fill="#ec6e6c"/>
<rect x="808.1" y="2008.6" width="2.8" height="14.3" fill="#3f9cc6"/>
<rect x="818.1" y="1994.2" width="2.8" height="14.4" fill="#ec6e6c"/>
<rect x="818.1" y="2008.6" width="2.8" height="14.3" fill="#3f9cc6"/>
<rect x="828.0" y="1994.2" width="2.8" height="14.4" fill="#ec6e6c"/>
<rect x="828.0" y="2008.6" width="2.8" height="14.3" fill="#3f9cc6"/>
<rect x="837.9" y="1994.2" width="2.8" height="14.4" fill="#ec6e6c"/>
<rect x="837.9" y="2008.6" width="2.8" height="14.3" fill="#3f9cc6"/>
<rect x="847.9" y="1994.2" width="2.8" height="14.4" fill="#ec6e6c"/>
<rect x="847.9" y="2008.6" width="2.8" height="14.3" fill="#3f9cc6"/>
<rect x="857.8" y="1994.2" width="2.8" height="14.4" fill="#ec6e6c"/>
<rect x="857.8" y="2008.6" width="2.8" height="14.3" fill="#3f9cc6"/>
<rect x="867.7" y="1994.2" width="2.8" height="14.4" fill="#ec6e6c"/>
<rect x="867.7" y="2008.6" width="2.8" height="14.3" fill="#3f9cc6"/>
<rect x="877.6" y="1994.2" width="2.8" height="14.4" fill="#ec6e6c"/>
<rect x="877.6" y="2008.6" width="2.8" height="14.3" fill="#3f9cc6"/>
<rect x="794.7" y="1992.2" width="87.1" height="3.9" fill="#bf2c28"/>
<rect x="794.7" y="2021.0" width="87.1" height="3.9" fill="#2a6fa8"/>
<text x="772.1" y="2042.2" font-size="17.8" textLength="129.2" lengthAdjust="spacingAndGlyphs" fill="#1c1c1c" stroke="#1c1c1c" stroke-width="0.3">TRANSCRIPTION</text>
<text x="913.9" y="2040.9" font-size="17.8" textLength="110.2" lengthAdjust="spacingAndGlyphs" fill="#1c1c1c" stroke="#1c1c1c" stroke-width="0.3">TRANSLATION</text>
<path d="M936.2 1966.3C939.9 1965.8 942.7 1967.0 946.0 1969.1C949.2 1971.2 952.7 1976.3 955.7 1978.8C958.8 1981.4 960.9 1983.9 964.1 1984.4C967.4 1984.9 971.5 1983.7 975.3 1981.6C979.0 1979.5 982.7 1974.3 986.4 1971.9C990.1 1969.4 994.1 1967.1 997.6 1967.1C1001.1 1967.1 1004.9 1969.0 1007.4 1971.9C1009.8 1974.7 1011.8 1980.2 1012.4 1984.4C1013.0 1988.6 1012.3 1993.0 1011.0 1997.0C1009.7 2000.9 1007.5 2005.1 1004.6 2008.1C1001.6 2011.1 997.4 2013.0 993.4 2015.1C989.5 2017.2 985.3 2019.3 980.8 2020.7C976.4 2022.1 971.5 2023.2 966.9 2023.5C962.2 2023.7 957.6 2023.0 952.9 2022.1C948.3 2021.1 943.4 2020.0 939.0 2017.9C934.6 2015.8 929.8 2013.0 926.4 2009.5C923.1 2006.0 920.4 2001.4 918.9 1997.0C917.4 1992.5 916.4 1987.2 917.2 1983.0C918.0 1978.8 920.5 1974.6 923.6 1971.9C926.8 1969.1 932.5 1966.7 936.2 1966.3Z" fill="#e6c568" stroke="#d2ac4c" stroke-width="1.3" stroke-linejoin="round"/>
<clipPath id="kc1"><path d="M936.2 1966.3C939.9 1965.8 942.7 1967.0 946.0 1969.1C949.2 1971.2 952.7 1976.3 955.7 1978.8C958.8 1981.4 960.9 1983.9 964.1 1984.4C967.4 1984.9 971.5 1983.7 975.3 1981.6C979.0 1979.5 982.7 1974.3 986.4 1971.9C990.1 1969.4 994.1 1967.1 997.6 1967.1C1001.1 1967.1 1004.9 1969.0 1007.4 1971.9C1009.8 1974.7 1011.8 1980.2 1012.4 1984.4C1013.0 1988.6 1012.3 1993.0 1011.0 1997.0C1009.7 2000.9 1007.5 2005.1 1004.6 2008.1C1001.6 2011.1 997.4 2013.0 993.4 2015.1C989.5 2017.2 985.3 2019.3 980.8 2020.7C976.4 2022.1 971.5 2023.2 966.9 2023.5C962.2 2023.7 957.6 2023.0 952.9 2022.1C948.3 2021.1 943.4 2020.0 939.0 2017.9C934.6 2015.8 929.8 2013.0 926.4 2009.5C923.1 2006.0 920.4 2001.4 918.9 1997.0C917.4 1992.5 916.4 1987.2 917.2 1983.0C918.0 1978.8 920.5 1974.6 923.6 1971.9C926.8 1969.1 932.5 1966.7 936.2 1966.3Z"/></clipPath>
<g fill="#ecd080" opacity="0.6" clip-path="url(#kc1)"><circle cx="966.9" cy="2000.6" r="5.5"/><circle cx="952.8" cy="1986.1" r="4.3"/><circle cx="987.6" cy="1993.1" r="5.0"/><circle cx="968.4" cy="2007.6" r="5.9"/><circle cx="972.2" cy="1985.6" r="6.6"/><circle cx="975.5" cy="2000.2" r="7.5"/><circle cx="946.6" cy="1990.4" r="6.7"/><circle cx="984.1" cy="1996.7" r="6.4"/></g>
<text x="932.0" y="2010.6" font-size="20.5" textLength="60.0" lengthAdjust="spacingAndGlyphs" fill="#1c1c1c" stroke="#1c1c1c" stroke-width="0.3">GATA3</text>
<line x1="904.0" y1="2062.6" x2="904.0" y2="2084.0" stroke="#161616" stroke-width="5.4" />
<polygon points="904.0,2103.3 915.0,2082.3 893.0,2082.3" fill="#161616"/>
<path d="M877.7 2116.5C881.8 2116.3 887.0 2116.8 891.6 2117.9C896.3 2119.0 900.9 2121.3 905.6 2122.9C910.2 2124.6 915.1 2125.7 919.5 2127.7C923.9 2129.6 928.3 2131.9 932.1 2134.6C935.8 2137.4 939.7 2140.7 941.8 2144.4C943.9 2148.1 944.6 2152.1 944.6 2157.0C944.6 2161.8 942.8 2168.6 941.8 2173.7C940.9 2178.8 940.9 2183.7 939.0 2187.7C937.2 2191.6 934.9 2195.6 930.7 2197.4C926.5 2199.3 919.0 2202.8 913.9 2198.8C908.8 2194.9 907.0 2180.2 900.0 2173.7C893.0 2167.2 878.6 2164.4 872.1 2159.8C865.6 2155.1 863.0 2150.9 860.9 2145.8C858.8 2140.7 858.6 2133.5 859.5 2129.1C860.5 2124.6 863.5 2121.4 866.5 2119.3C869.5 2117.2 873.5 2116.7 877.7 2116.5Z" fill="#b2d67c" stroke="#86bf52" stroke-width="1.3" stroke-linejoin="round"/>
<clipPath id="kc2"><path d="M877.7 2116.5C881.8 2116.3 887.0 2116.8 891.6 2117.9C896.3 2119.0 900.9 2121.3 905.6 2122.9C910.2 2124.6 915.1 2125.7 919.5 2127.7C923.9 2129.6 928.3 2131.9 932.1 2134.6C935.8 2137.4 939.7 2140.7 941.8 2144.4C943.9 2148.1 944.6 2152.1 944.6 2157.0C944.6 2161.8 942.8 2168.6 941.8 2173.7C940.9 2178.8 940.9 2183.7 939.0 2187.7C937.2 2191.6 934.9 2195.6 930.7 2197.4C926.5 2199.3 919.0 2202.8 913.9 2198.8C908.8 2194.9 907.0 2180.2 900.0 2173.7C893.0 2167.2 878.6 2164.4 872.1 2159.8C865.6 2155.1 863.0 2150.9 860.9 2145.8C858.8 2140.7 858.6 2133.5 859.5 2129.1C860.5 2124.6 863.5 2121.4 866.5 2119.3C869.5 2117.2 873.5 2116.7 877.7 2116.5Z"/></clipPath>
<g fill="#c2e090" opacity="0.6" clip-path="url(#kc2)"><circle cx="904.5" cy="2153.4" r="6.6"/><circle cx="917.3" cy="2155.7" r="5.5"/><circle cx="917.2" cy="2154.5" r="4.1"/><circle cx="904.6" cy="2151.0" r="4.4"/><circle cx="888.9" cy="2158.9" r="4.5"/><circle cx="908.5" cy="2164.4" r="7.8"/><circle cx="897.9" cy="2146.2" r="7.9"/></g>
<path d="M844.2 2110.1C847.9 2110.4 853.8 2111.0 856.7 2113.7C859.6 2116.4 860.4 2121.4 861.5 2126.3C862.5 2131.2 860.9 2137.9 863.1 2143.0C865.4 2148.1 870.1 2153.3 874.9 2157.0C879.6 2160.6 886.0 2162.7 891.6 2164.8C897.2 2166.9 903.8 2167.3 908.3 2169.5C912.9 2171.7 916.9 2175.1 919.0 2177.9C921.0 2180.7 921.3 2183.5 920.9 2186.3C920.5 2189.1 919.7 2192.8 916.7 2194.6C913.7 2196.5 906.7 2196.3 902.8 2197.4C898.8 2198.6 895.6 2199.5 893.0 2201.6C890.4 2203.7 889.7 2207.9 887.4 2210.0C885.1 2212.1 882.5 2214.4 879.1 2214.2C875.6 2213.9 870.7 2210.4 866.5 2208.6C862.3 2206.7 857.9 2205.3 853.9 2203.0C850.0 2200.7 846.3 2198.1 842.8 2194.6C839.3 2191.1 836.5 2186.5 833.0 2182.1C829.5 2177.7 825.3 2172.3 821.9 2168.1C818.4 2163.9 814.2 2160.7 812.1 2157.0C810.0 2153.2 809.2 2149.5 809.3 2145.8C809.4 2142.1 810.8 2137.7 812.9 2134.6C815.0 2131.6 819.4 2130.5 821.9 2127.7C824.3 2124.9 825.3 2120.6 827.4 2117.9C829.5 2115.3 831.6 2113.1 834.4 2111.8C837.2 2110.5 840.5 2109.8 844.2 2110.1Z" fill="#d0891c" stroke="#b4700f" stroke-width="1.3" stroke-linejoin="round"/>
<clipPath id="kc3"><path d="M844.2 2110.1C847.9 2110.4 853.8 2111.0 856.7 2113.7C859.6 2116.4 860.4 2121.4 861.5 2126.3C862.5 2131.2 860.9 2137.9 863.1 2143.0C865.4 2148.1 870.1 2153.3 874.9 2157.0C879.6 2160.6 886.0 2162.7 891.6 2164.8C897.2 2166.9 903.8 2167.3 908.3 2169.5C912.9 2171.7 916.9 2175.1 919.0 2177.9C921.0 2180.7 921.3 2183.5 920.9 2186.3C920.5 2189.1 919.7 2192.8 916.7 2194.6C913.7 2196.5 906.7 2196.3 902.8 2197.4C898.8 2198.6 895.6 2199.5 893.0 2201.6C890.4 2203.7 889.7 2207.9 887.4 2210.0C885.1 2212.1 882.5 2214.4 879.1 2214.2C875.6 2213.9 870.7 2210.4 866.5 2208.6C862.3 2206.7 857.9 2205.3 853.9 2203.0C850.0 2200.7 846.3 2198.1 842.8 2194.6C839.3 2191.1 836.5 2186.5 833.0 2182.1C829.5 2177.7 825.3 2172.3 821.9 2168.1C818.4 2163.9 814.2 2160.7 812.1 2157.0C810.0 2153.2 809.2 2149.5 809.3 2145.8C809.4 2142.1 810.8 2137.7 812.9 2134.6C815.0 2131.6 819.4 2130.5 821.9 2127.7C824.3 2124.9 825.3 2120.6 827.4 2117.9C829.5 2115.3 831.6 2113.1 834.4 2111.8C837.2 2110.5 840.5 2109.8 844.2 2110.1Z"/></clipPath>
<g fill="#da9a30" opacity="0.5" clip-path="url(#kc3)"><circle cx="851.1" cy="2167.2" r="4.6"/><circle cx="862.3" cy="2164.6" r="6.0"/><circle cx="864.2" cy="2163.3" r="6.2"/><circle cx="861.3" cy="2163.9" r="5.5"/><circle cx="858.2" cy="2152.3" r="6.9"/><circle cx="866.2" cy="2170.4" r="4.4"/><circle cx="833.9" cy="2163.7" r="6.4"/><circle cx="864.0" cy="2153.8" r="7.0"/></g>
<path d="M961.4 2134.6C965.3 2135.1 971.4 2137.0 975.3 2140.2C979.3 2143.5 982.8 2149.1 985.1 2154.2C987.4 2159.3 988.5 2166.3 989.3 2170.9C990.1 2175.6 990.5 2177.9 989.8 2182.1C989.1 2186.3 986.6 2191.4 985.1 2196.0C983.6 2200.7 983.0 2205.3 980.9 2210.0C978.8 2214.6 975.8 2220.0 972.5 2223.9C969.3 2227.9 965.5 2230.9 961.4 2233.7C957.2 2236.5 951.6 2238.1 947.4 2240.7C943.2 2243.2 940.0 2247.4 936.2 2249.0C932.5 2250.7 928.8 2250.9 925.1 2250.4C921.4 2250.0 917.2 2248.3 913.9 2246.2C910.7 2244.2 908.8 2240.7 905.6 2237.9C902.3 2235.1 897.4 2232.5 894.4 2229.5C891.4 2226.5 888.6 2223.0 887.4 2219.7C886.3 2216.5 886.3 2213.0 887.4 2210.0C888.6 2207.0 891.4 2203.7 894.4 2201.6C897.4 2199.5 901.6 2198.1 905.6 2197.4C909.5 2196.7 914.4 2197.9 918.1 2197.4C921.8 2197.0 924.9 2196.3 927.9 2194.6C930.9 2193.0 934.2 2191.1 936.2 2187.7C938.3 2184.2 939.5 2178.4 940.4 2173.7C941.4 2169.1 941.1 2164.4 941.8 2159.8C942.5 2155.1 943.0 2149.5 944.6 2145.8C946.2 2142.1 948.8 2139.3 951.6 2137.4C954.4 2135.6 957.4 2134.2 961.4 2134.6Z" fill="#e8c66c" stroke="#d2a84a" stroke-width="1.3" stroke-linejoin="round"/>
<clipPath id="kc4"><path d="M961.4 2134.6C965.3 2135.1 971.4 2137.0 975.3 2140.2C979.3 2143.5 982.8 2149.1 985.1 2154.2C987.4 2159.3 988.5 2166.3 989.3 2170.9C990.1 2175.6 990.5 2177.9 989.8 2182.1C989.1 2186.3 986.6 2191.4 985.1 2196.0C983.6 2200.7 983.0 2205.3 980.9 2210.0C978.8 2214.6 975.8 2220.0 972.5 2223.9C969.3 2227.9 965.5 2230.9 961.4 2233.7C957.2 2236.5 951.6 2238.1 947.4 2240.7C943.2 2243.2 940.0 2247.4 936.2 2249.0C932.5 2250.7 928.8 2250.9 925.1 2250.4C921.4 2250.0 917.2 2248.3 913.9 2246.2C910.7 2244.2 908.8 2240.7 905.6 2237.9C902.3 2235.1 897.4 2232.5 894.4 2229.5C891.4 2226.5 888.6 2223.0 887.4 2219.7C886.3 2216.5 886.3 2213.0 887.4 2210.0C888.6 2207.0 891.4 2203.7 894.4 2201.6C897.4 2199.5 901.6 2198.1 905.6 2197.4C909.5 2196.7 914.4 2197.9 918.1 2197.4C921.8 2197.0 924.9 2196.3 927.9 2194.6C930.9 2193.0 934.2 2191.1 936.2 2187.7C938.3 2184.2 939.5 2178.4 940.4 2173.7C941.4 2169.1 941.1 2164.4 941.8 2159.8C942.5 2155.1 943.0 2149.5 944.6 2145.8C946.2 2142.1 948.8 2139.3 951.6 2137.4C954.4 2135.6 957.4 2134.2 961.4 2134.6Z"/></clipPath>
<g fill="#eed488" opacity="0.6" clip-path="url(#kc4)"><circle cx="925.8" cy="2180.6" r="7.2"/><circle cx="960.2" cy="2188.8" r="7.7"/><circle cx="953.6" cy="2199.8" r="7.8"/><circle cx="925.7" cy="2174.0" r="4.5"/><circle cx="933.9" cy="2198.6" r="6.2"/><circle cx="940.4" cy="2196.9" r="4.9"/><circle cx="936.0" cy="2225.8" r="7.1"/><circle cx="952.8" cy="2218.5" r="4.6"/><circle cx="938.1" cy="2194.4" r="4.0"/></g>
<text x="879.6" y="2154.4" font-size="26.5" textLength="45.5" lengthAdjust="spacingAndGlyphs" fill="#1c1c1c" stroke="#1c1c1c" stroke-width="0.3">ATR</text>
<text x="833.0" y="2189.0" font-size="26.5" textLength="78.1" lengthAdjust="spacingAndGlyphs" fill="#1c1c1c" stroke="#1c1c1c" stroke-width="0.3">PGC1α</text>
<text x="890.2" y="2223.6" font-size="26.5" textLength="76.8" lengthAdjust="spacingAndGlyphs" fill="#1c1c1c" stroke="#1c1c1c" stroke-width="0.3">GATA3</text>
<path d="M1031.1 2185.4 H1057 Q1072.1 2185.4 1072.1 2170 V2044 Q1072.1 2028.7 1088 2028.7 H1106" fill="none" stroke="#161616" stroke-width="5.4" stroke-linecap="butt" stroke-linejoin="round"/>
<path d="M1072.1 2136 Q1072.1 2117.1 1090 2117.1 H1106" fill="none" stroke="#161616" stroke-width="5.4" stroke-linecap="butt" stroke-linejoin="round"/>
<polygon points="1126.8,2028.7 1104.8,2017.7 1104.8,2039.7" fill="#161616"/>
<polygon points="1126.8,2117.1 1104.8,2106.1 1104.8,2128.1" fill="#161616"/>
<path d="M1143.0 2026.0V2000.0H1175.0" fill="none" stroke="#1c1c1c" stroke-width="1.7" />
<polygon points="1182.0,2000.0 1172.5,1995.6 1172.5,2004.4" fill="#1c1c1c"/>
<text x="1147.5" y="2021.5" font-size="19" textLength="45.9" lengthAdjust="spacingAndGlyphs" fill="#1c1c1c" stroke="#1c1c1c" stroke-width="0.3">SOD3</text>
<rect x="1144.1" y="2028.5" width="2.8" height="10.3" fill="#ec6e6c"/>
<rect x="1144.1" y="2038.8" width="2.8" height="10.3" fill="#3f9cc6"/>
<rect x="1153.0" y="2028.5" width="2.8" height="10.3" fill="#ec6e6c"/>
<rect x="1153.0" y="2038.8" width="2.8" height="10.3" fill="#3f9cc6"/>
<rect x="1162.0" y="2028.5" width="2.8" height="10.3" fill="#ec6e6c"/>
<rect x="1162.0" y="2038.8" width="2.8" height="10.3" fill="#3f9cc6"/>
<rect x="1170.9" y="2028.5" width="2.8" height="10.3" fill="#ec6e6c"/>
<rect x="1170.9" y="2038.8" width="2.8" height="10.3" fill="#3f9cc6"/>
<rect x="1179.8" y="2028.5" width="2.8" height="10.3" fill="#ec6e6c"/>
<rect x="1179.8" y="2038.8" width="2.8" height="10.3" fill="#3f9cc6"/>
<rect x="1188.8" y="2028.5" width="2.8" height="10.3" fill="#ec6e6c"/>
<rect x="1188.8" y="2038.8" width="2.8" height="10.3" fill="#3f9cc6"/>
<rect x="1197.7" y="2028.5" width="2.8" height="10.3" fill="#ec6e6c"/>
<rect x="1197.7" y="2038.8" width="2.8" height="10.3" fill="#3f9cc6"/>
<rect x="1206.6" y="2028.5" width="2.8" height="10.3" fill="#ec6e6c"/>
<rect x="1206.6" y="2038.8" width="2.8" height="10.3" fill="#3f9cc6"/>
<rect x="1215.5" y="2028.5" width="2.8" height="10.3" fill="#ec6e6c"/>
<rect x="1215.5" y="2038.8" width="2.8" height="10.3" fill="#3f9cc6"/>
<rect x="1224.5" y="2028.5" width="2.8" height="10.3" fill="#ec6e6c"/>
<rect x="1224.5" y="2038.8" width="2.8" height="10.3" fill="#3f9cc6"/>
<rect x="1233.4" y="2028.5" width="2.8" height="10.3" fill="#ec6e6c"/>
<rect x="1233.4" y="2038.8" width="2.8" height="10.3" fill="#3f9cc6"/>
<rect x="1242.3" y="2028.5" width="2.8" height="10.3" fill="#ec6e6c"/>
<rect x="1242.3" y="2038.8" width="2.8" height="10.3" fill="#3f9cc6"/>
<rect x="1251.3" y="2028.5" width="2.8" height="10.3" fill="#ec6e6c"/>
<rect x="1251.3" y="2038.8" width="2.8" height="10.3" fill="#3f9cc6"/>
<rect x="1260.2" y="2028.5" width="2.8" height="10.3" fill="#ec6e6c"/>
<rect x="1260.2" y="2038.8" width="2.8" height="10.3" fill="#3f9cc6"/>
<rect x="1140.8" y="2026.8" width="123.3" height="3.4" fill="#bf2c28"/>
<rect x="1140.8" y="2047.5" width="123.3" height="3.4" fill="#2a6fa8"/>
<text x="1150.3" y="2068.1" font-size="18.8" textLength="105.0" lengthAdjust="spacingAndGlyphs" fill="#1c1c1c" stroke="#1c1c1c" stroke-width="0.3">Antioxidants</text>
<path d="M1143.0 2114.6V2088.4H1175.0" fill="none" stroke="#1c1c1c" stroke-width="1.7" />
<polygon points="1182.0,2088.4 1172.5,2084.0 1172.5,2092.8" fill="#1c1c1c"/>
<text x="1147.7" y="2110.1" font-size="19" textLength="44.7" lengthAdjust="spacingAndGlyphs" fill="#1c1c1c" stroke="#1c1c1c" stroke-width="0.3">NRF2</text>
<rect x="1144.1" y="2117.1" width="2.8" height="10.2" fill="#ec6e6c"/>
<rect x="1144.1" y="2127.2" width="2.8" height="10.2" fill="#3f9cc6"/>
<rect x="1153.0" y="2117.1" width="2.8" height="10.2" fill="#ec6e6c"/>
<rect x="1153.0" y="2127.2" width="2.8" height="10.2" fill="#3f9cc6"/>
<rect x="1162.0" y="2117.1" width="2.8" height="10.2" fill="#ec6e6c"/>
<rect x="1162.0" y="2127.2" width="2.8" height="10.2" fill="#3f9cc6"/>
<rect x="1170.9" y="2117.1" width="2.8" height="10.2" fill="#ec6e6c"/>
<rect x="1170.9" y="2127.2" width="2.8" height="10.2" fill="#3f9cc6"/>
<rect x="1179.8" y="2117.1" width="2.8" height="10.2" fill="#ec6e6c"/>
<rect x="1179.8" y="2127.2" width="2.8" height="10.2" fill="#3f9cc6"/>
<rect x="1188.8" y="2117.1" width="2.8" height="10.2" fill="#ec6e6c"/>
<rect x="1188.8" y="2127.2" width="2.8" height="10.2" fill="#3f9cc6"/>
<rect x="1197.7" y="2117.1" width="2.8" height="10.2" fill="#ec6e6c"/>
<rect x="1197.7" y="2127.2" width="2.8" height="10.2" fill="#3f9cc6"/>
<rect x="1206.6" y="2117.1" width="2.8" height="10.2" fill="#ec6e6c"/>
<rect x="1206.6" y="2127.2" width="2.8" height="10.2" fill="#3f9cc6"/>
<rect x="1215.5" y="2117.1" width="2.8" height="10.2" fill="#ec6e6c"/>
<rect x="1215.5" y="2127.2" width="2.8" height="10.2" fill="#3f9cc6"/>
<rect x="1224.5" y="2117.1" width="2.8" height="10.2" fill="#ec6e6c"/>
<rect x="1224.5" y="2127.2" width="2.8" height="10.2" fill="#3f9cc6"/>
<rect x="1233.4" y="2117.1" width="2.8" height="10.2" fill="#ec6e6c"/>
<rect x="1233.4" y="2127.2" width="2.8" height="10.2" fill="#3f9cc6"/>
<rect x="1242.3" y="2117.1" width="2.8" height="10.2" fill="#ec6e6c"/>
<rect x="1242.3" y="2127.2" width="2.8" height="10.2" fill="#3f9cc6"/>
<rect x="1251.3" y="2117.1" width="2.8" height="10.2" fill="#ec6e6c"/>
<rect x="1251.3" y="2127.2" width="2.8" height="10.2" fill="#3f9cc6"/>
<rect x="1260.2" y="2117.1" width="2.8" height="10.2" fill="#ec6e6c"/>
<rect x="1260.2" y="2127.2" width="2.8" height="10.2" fill="#3f9cc6"/>
<rect x="1140.8" y="2115.4" width="123.3" height="3.4" fill="#bf2c28"/>
<rect x="1140.8" y="2135.7" width="123.3" height="3.4" fill="#2a6fa8"/>
<text x="1145.0" y="2156.2" font-size="18.8" textLength="115.5" lengthAdjust="spacingAndGlyphs" fill="#1c1c1c" stroke="#1c1c1c" stroke-width="0.3">Mitochondrial</text>
<text x="1157.2" y="2181.7" font-size="18.8" textLength="91.6" lengthAdjust="spacingAndGlyphs" fill="#1c1c1c" stroke="#1c1c1c" stroke-width="0.3">Biogenesis</text>
</svg></body></html>
